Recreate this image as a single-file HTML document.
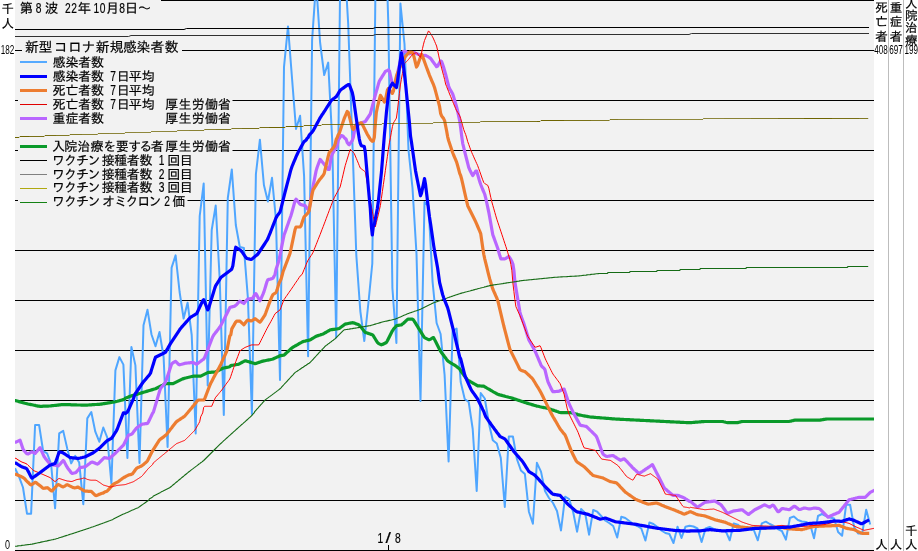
<!DOCTYPE html>
<html lang="ja"><head><meta charset="utf-8"><title>第8波 新型コロナ 新規感染者数</title>
<style>html,body{margin:0;padding:0;background:#fff;overflow:hidden}body{width:918px;height:551px}svg text{white-space:pre}</style></head>
<body>
<svg width="918" height="551" viewBox="0 0 918 551" style="display:block">
<rect x="0" y="0" width="918" height="551" fill="#ffffff"/>
<rect x="15" y="0" width="859" height="551" fill="#f2f2f2"/>
<defs><clipPath id="pc"><rect x="15" y="0" width="859" height="551"/></clipPath></defs>
<g shape-rendering="crispEdges" stroke="#000" stroke-width="1">
<line x1="15" y1="0.5" x2="874" y2="0.5"/>
<line x1="15" y1="50.5" x2="874" y2="50.5"/>
<line x1="15" y1="100.5" x2="874" y2="100.5"/>
<line x1="15" y1="150.5" x2="874" y2="150.5"/>
<line x1="15" y1="200.5" x2="874" y2="200.5"/>
<line x1="15" y1="250.5" x2="874" y2="250.5"/>
<line x1="15" y1="300.5" x2="874" y2="300.5"/>
<line x1="15" y1="350.5" x2="874" y2="350.5"/>
<line x1="15" y1="400.5" x2="874" y2="400.5"/>
<line x1="15" y1="450.5" x2="874" y2="450.5"/>
<line x1="15" y1="500.5" x2="874" y2="500.5"/>
<line x1="15" y1="550.5" x2="874" y2="550.5"/>
</g>
<g clip-path="url(#pc)">
<polyline points="15.0,468.3 19.0,476.7 23.0,487.5 27.0,513.7 31.1,513.7 35.1,425.0 39.1,425.0 43.1,451.0 47.1,453.4 51.1,464.0 55.1,508.3 59.2,433.4 63.2,430.9 67.2,448.4 71.2,463.4 75.2,455.9 79.2,462.6 83.3,504.2 87.3,418.4 91.3,412.0 95.3,431.7 99.3,441.7 103.3,427.5 107.3,437.6 111.4,483.3 115.4,370.4 119.4,357.1 123.4,364.6 127.4,458.0 131.4,347.0 135.4,365.4 139.5,463.0 143.5,325.3 147.5,309.8 151.5,334.5 155.5,346.2 159.5,332.0 163.6,357.0 167.6,447.0 171.6,267.6 175.6,255.4 179.6,292.0 183.6,318.5 187.6,302.7 191.7,335.0 195.7,433.5 199.7,216.0 203.7,183.4 207.7,385.5 211.7,230.0 215.7,205.6 219.8,281.0 223.8,415.0 227.8,198.0 231.8,169.4 235.8,225.0 239.8,247.0 243.9,248.0 247.9,298.0 251.9,414.0 255.9,174.0 259.9,139.7 263.9,185.0 267.9,201.5 272.0,177.8 276.0,220.0 280.0,380.0 284.0,66.8 288.0,26.4 292.0,78.0 296.0,129.0 300.1,115.8 304.1,176.4 308.1,356.2 312.1,40.0 316.1,-18.0 320.1,42.5 324.2,75.0 328.2,62.6 332.2,140.0 336.2,337.4 340.2,-22.0 344.2,-44.0 348.2,24.0 352.3,140.0 356.3,255.0 360.3,311.0 364.3,341.0 368.3,304.0 372.3,263.5 376.3,-85.0 380.4,-124.0 384.4,-106.0 388.4,26.6 392.4,288.0 396.4,343.0 400.4,3.4 404.5,44.0 408.5,150.0 412.5,188.0 416.5,254.0 420.5,401.0 424.5,202.0 428.5,206.0 432.6,282.0 436.6,323.0 440.6,334.0 444.6,375.0 448.6,461.5 452.6,331.0 456.6,328.6 460.7,382.0 464.7,399.0 468.7,402.0 472.7,429.0 476.7,491.0 480.7,393.0 484.8,398.5 488.8,423.0 492.8,440.3 496.8,443.5 500.8,458.0 504.8,507.0 508.8,436.5 512.9,436.5 516.9,459.0 520.9,470.5 524.9,474.0 528.9,511.7 532.9,523.7 536.9,462.8 541.0,471.6 545.0,491.0 549.0,498.0 553.0,503.0 557.0,511.0 561.0,530.5 565.1,496.7 569.1,499.0 573.1,511.7 577.1,531.7 581.1,509.0 585.1,513.0 589.1,534.7 593.2,510.0 597.2,511.7 601.2,516.0 605.2,520.5 609.2,523.0 613.2,526.0 617.2,537.5 621.3,516.7 625.3,518.0 629.3,521.0 633.3,524.0 637.3,526.0 641.3,528.5 645.4,540.5 649.4,522.5 653.4,524.0 657.4,527.0 661.4,530.5 665.4,533.0 669.4,534.0 673.5,543.0 677.5,526.7 681.5,538.0 685.5,526.7 689.5,525.7 693.5,526.5 697.5,528.5 701.6,542.0 705.6,528.4 709.6,527.0 713.6,529.0 717.6,530.9 721.6,530.9 725.7,531.0 729.7,540.3 733.7,523.4 737.7,524.6 741.7,528.0 745.7,529.6 749.7,529.6 753.8,530.0 757.8,540.3 761.8,523.4 765.8,521.7 769.8,524.0 773.8,526.0 777.8,529.0 781.9,531.0 785.9,539.6 789.9,518.0 793.9,516.4 797.9,520.0 801.9,521.5 806.0,522.0 810.0,524.0 814.0,538.3 818.0,516.0 822.0,514.0 826.0,516.0 830.0,517.5 834.1,518.4 838.1,532.0 842.1,535.8 846.1,504.8 850.1,504.8 854.1,527.0 858.1,533.4 862.2,533.4 866.2,509.7 870.2,524.6" fill="none" stroke="#4fa6ff" stroke-width="2.0" stroke-linejoin="round" stroke-linecap="butt" />
<polyline points="15.0,400.7 16.0,400.7 17.0,401.0 18.0,401.3 19.0,401.6 20.0,401.9 21.0,402.2 22.0,402.4 23.0,402.7 24.0,403.0 25.0,403.3 26.0,403.5 27.0,403.7 28.0,404.0 29.1,404.2 30.1,404.4 31.1,404.6 32.1,404.8 33.1,405.0 34.1,405.2 35.1,405.4 36.1,405.7 37.1,405.9 38.1,406.1 39.1,406.2 40.1,406.3 41.1,406.3 42.1,406.3 43.1,406.2 44.1,406.2 45.1,406.2 46.1,406.2 47.1,406.1 48.1,406.1 49.1,406.0 50.1,406.0 51.1,405.8 52.1,405.7 53.1,405.6 54.1,405.5 55.1,405.4 56.2,405.3 57.2,405.2 58.2,405.1 59.2,404.9 60.2,404.8 61.2,404.7 62.2,404.6 63.2,404.6 64.2,404.6 65.2,404.5 66.2,404.6 67.2,404.6 68.2,404.6 69.2,404.7 70.2,404.7 71.2,404.8 72.2,404.8 73.2,404.8 74.2,404.9 75.2,404.9 76.2,404.9 77.2,405.0 78.2,405.0 79.2,405.0 80.2,405.0 81.2,405.1 82.3,405.1 83.3,405.1 84.3,405.1 85.3,405.1 86.3,405.1 87.3,405.1 88.3,405.0 89.3,404.9 90.3,404.9 91.3,404.8 92.3,404.7 93.3,404.7 94.3,404.6 95.3,404.5 96.3,404.5 97.3,404.4 98.3,404.4 99.3,404.3 100.3,404.2 101.3,404.1 102.3,403.9 103.3,403.7 104.3,403.6 105.3,403.4 106.3,403.3 107.3,403.1 108.3,402.9 109.4,402.8 110.4,402.6 111.4,402.5 112.4,402.3 113.4,402.1 114.4,402.0 115.4,401.8 116.4,401.5 117.4,401.3 118.4,401.0 119.4,400.7 120.4,400.4 121.4,400.2 122.4,399.9 123.4,399.6 124.4,399.3 125.4,398.1 126.4,397.8 127.4,397.4 128.4,397.0 129.4,396.6 130.4,396.2 131.4,395.9 132.4,395.6 133.4,395.3 134.4,395.0 135.4,394.7 136.5,394.4 137.5,394.1 138.5,393.8 139.5,393.5 140.5,393.2 141.5,392.9 142.5,392.6 143.5,392.3 144.5,392.0 145.5,391.7 146.5,391.4 147.5,391.1 148.5,390.8 149.5,390.5 150.5,390.2 151.5,389.9 152.5,389.6 153.5,389.3 154.5,389.0 155.5,388.7 156.5,388.2 157.5,387.7 158.5,387.2 159.5,386.7 160.5,386.2 161.5,385.7 162.6,385.2 163.6,384.7 164.6,384.1 165.6,383.7 166.6,383.7 167.6,383.7 168.6,383.7 169.6,383.7 170.6,383.7 171.6,383.7 172.6,383.7 173.6,383.4 174.6,382.9 175.6,382.4 176.6,381.9 177.6,381.4 178.6,380.9 179.6,380.4 180.6,379.9 181.6,379.4 182.6,378.9 183.6,378.6 184.6,378.3 185.6,378.0 186.6,377.8 187.6,377.5 188.6,377.3 189.7,377.0 190.7,376.8 191.7,376.5 192.7,376.3 193.7,376.2 194.7,376.2 195.7,376.2 196.7,376.2 197.7,376.2 198.7,376.2 199.7,376.2 200.7,376.1 201.7,375.6 202.7,375.1 203.7,374.6 204.7,374.1 205.7,373.6 206.7,373.1 207.7,372.6 208.7,372.4 209.7,372.3 210.7,372.3 211.7,372.2 212.7,372.1 213.7,372.1 214.7,372.0 215.7,371.8 216.8,371.3 217.8,370.8 218.8,370.3 219.8,369.8 220.8,369.3 221.8,368.8 222.8,368.3 223.8,368.0 224.8,367.8 225.8,367.6 226.8,367.4 227.8,367.2 228.8,367.0 229.8,366.8 230.8,365.6 231.8,365.4 232.8,365.2 233.8,365.0 234.8,364.9 235.8,364.7 236.8,364.5 237.8,364.4 238.8,364.2 239.8,363.6 240.8,363.0 241.8,362.5 242.9,361.9 243.9,361.4 244.9,360.8 245.9,360.9 246.9,361.2 247.9,361.5 248.9,361.8 249.9,362.1 250.9,362.4 251.9,362.7 252.9,363.0 253.9,363.3 254.9,363.6 255.9,363.4 256.9,363.1 257.9,362.7 258.9,362.4 259.9,362.1 260.9,361.7 261.9,361.4 262.9,361.1 263.9,360.9 264.9,360.7 265.9,360.5 266.9,360.3 267.9,360.1 268.9,359.9 270.0,359.7 271.0,359.5 272.0,359.3 273.0,359.0 274.0,358.5 275.0,358.1 276.0,357.6 277.0,357.1 278.0,356.7 279.0,356.2 280.0,355.7 281.0,355.6 282.0,355.4 283.0,355.3 284.0,355.1 285.0,354.2 286.0,353.3 287.0,352.4 288.0,351.5 289.0,350.6 290.0,349.7 291.0,348.8 292.0,347.9 293.0,347.2 294.0,346.6 295.0,346.0 296.0,345.5 297.1,344.9 298.1,344.3 299.1,343.7 300.1,343.1 301.1,342.6 302.1,342.0 303.1,341.6 304.1,341.3 305.1,341.1 306.1,340.8 307.1,340.6 308.1,340.4 309.1,340.1 310.1,339.9 311.1,339.3 312.1,338.7 313.1,338.1 314.1,337.5 315.1,336.9 316.1,336.3 317.1,335.9 318.1,335.6 319.1,335.3 320.1,335.0 321.1,334.6 322.1,334.3 323.2,333.9 324.2,333.3 325.2,332.7 326.2,332.2 327.2,331.6 328.2,331.0 329.2,330.5 330.2,329.9 331.2,329.7 332.2,329.6 333.2,329.4 334.2,329.3 335.2,329.2 336.2,329.0 337.2,328.9 338.2,328.7 339.2,328.5 340.2,327.7 341.2,327.0 342.2,326.3 343.2,325.6 344.2,324.8 345.2,324.1 346.2,323.9 347.2,323.7 348.2,323.5 349.2,323.3 350.3,323.1 351.3,322.9 352.3,322.7 353.3,322.8 354.3,323.1 355.3,323.5 356.3,323.9 357.3,324.2 358.3,324.6 359.3,325.2 360.3,326.4 361.3,327.6 362.3,328.8 363.3,330.0 364.3,331.2 365.3,332.4 366.3,332.7 367.3,333.0 368.3,333.4 369.3,333.7 370.3,334.1 371.3,334.4 372.3,334.7 373.3,335.7 374.3,337.4 375.3,339.0 376.3,340.7 377.4,342.4 378.4,343.4 379.4,343.9 380.4,344.3 381.4,344.8 382.4,344.5 383.4,344.0 384.4,343.5 385.4,343.0 386.4,342.5 387.4,340.8 388.4,338.8 389.4,336.8 390.4,334.8 391.4,332.8 392.4,330.8 393.4,329.3 394.4,328.1 395.4,327.0 396.4,325.8 397.4,325.5 398.4,325.3 399.4,325.2 400.4,325.0 401.4,324.9 402.4,324.1 403.5,323.2 404.5,322.3 405.5,321.3 406.5,320.4 407.5,319.5 408.5,319.1 409.5,319.1 410.5,319.1 411.5,319.1 412.5,319.1 413.5,320.0 414.5,321.6 415.5,323.2 416.5,324.8 417.5,326.4 418.5,328.1 419.5,329.7 420.5,331.3 421.5,332.9 422.5,334.6 423.5,336.3 424.5,337.6 425.5,338.1 426.5,338.6 427.5,339.1 428.5,339.6 429.5,339.7 430.6,339.1 431.6,338.5 432.6,337.9 433.6,337.6 434.6,339.6 435.6,341.5 436.6,343.5 437.6,345.5 438.6,347.5 439.6,349.4 440.6,351.3 441.6,352.7 442.6,354.0 443.6,355.3 444.6,356.7 445.6,358.0 446.6,359.4 447.6,360.7 448.6,361.6 449.6,362.2 450.6,362.8 451.6,363.4 452.6,364.0 453.6,364.6 454.6,365.2 455.6,365.8 456.6,366.6 457.7,367.4 458.7,368.2 459.7,368.9 460.7,370.8 461.7,372.2 462.7,373.5 463.7,374.9 464.7,376.2 465.7,377.5 466.7,378.9 467.7,380.1 468.7,380.7 469.7,381.2 470.7,381.8 471.7,382.4 472.7,383.0 473.7,383.5 474.7,384.1 475.7,384.7 476.7,385.3 477.7,385.8 478.7,385.8 479.7,385.9 480.7,386.0 481.7,386.1 482.7,386.2 483.8,386.2 484.8,386.8 485.8,387.4 486.8,388.0 487.8,388.6 488.8,389.1 489.8,389.7 490.8,390.3 491.8,390.9 492.8,391.5 493.8,392.1 494.8,392.6 495.8,393.2 496.8,393.8 497.8,394.3 498.8,394.6 499.8,394.9 500.8,395.1 501.8,395.4 502.8,395.7 503.8,395.9 504.8,396.2 505.8,396.5 506.8,396.7 507.8,397.0 508.8,397.3 509.8,397.5 510.9,397.8 511.9,398.1 512.9,398.4 513.9,398.7 514.9,399.0 515.9,399.4 516.9,399.7 517.9,400.1 518.9,400.4 519.9,400.7 520.9,401.1 521.9,401.4 522.9,401.8 523.9,402.1 524.9,402.5 525.9,402.8 526.9,403.1 527.9,403.4 528.9,403.7 529.9,404.0 530.9,404.3 531.9,404.6 532.9,404.9 533.9,405.2 534.9,405.5 535.9,405.8 536.9,406.1 538.0,406.3 539.0,406.5 540.0,406.8 541.0,407.0 542.0,407.2 543.0,407.4 544.0,407.6 545.0,407.8 546.0,408.0 547.0,408.2 548.0,408.4 549.0,408.7 550.0,409.1 551.0,409.4 552.0,409.8 553.0,410.1 554.0,410.4 555.0,410.8 556.0,411.1 557.0,411.5 558.0,411.8 559.0,412.2 560.0,412.5 561.0,412.6 562.0,412.6 563.0,412.6 564.1,412.6 565.1,412.6 566.1,412.6 567.1,412.6 568.1,412.6 569.1,412.6 570.1,412.6 571.1,412.7 572.1,412.9 573.1,413.1 574.1,413.7 575.1,413.9 576.1,414.1 577.1,414.2 578.1,414.8 579.1,414.9 580.1,415.1 581.1,415.3 582.1,415.5 583.1,415.7 584.1,415.9 585.1,416.1 586.1,416.2 587.1,416.4 588.1,416.6 589.1,416.8 590.1,417.0 591.2,417.1 592.2,417.2 593.2,417.2 594.2,417.3 595.2,417.4 596.2,417.5 597.2,417.6 598.2,417.6 599.2,417.7 600.2,417.8 601.2,417.9 602.2,418.0 603.2,418.0 604.2,418.1 605.2,418.2 606.2,418.3 607.2,418.4 608.2,418.4 609.2,418.5 610.2,418.6 611.2,418.7 612.2,418.8 613.2,418.8 614.2,418.9 615.2,419.0 616.2,419.1 617.2,419.1 618.3,419.2 619.3,419.2 620.3,419.3 621.3,419.3 622.3,419.4 623.3,419.4 624.3,419.5 625.3,419.5 626.3,419.6 627.3,419.6 628.3,419.7 629.3,419.7 630.3,419.8 631.3,419.8 632.3,419.9 633.3,419.9 634.3,420.0 635.3,420.0 636.3,420.1 637.3,420.1 638.3,420.2 639.3,420.2 640.3,420.3 641.3,420.3 642.3,420.4 643.3,420.4 644.4,420.5 645.4,420.5 646.4,420.6 647.4,420.6 648.4,420.7 649.4,420.7 650.4,420.8 651.4,420.8 652.4,420.9 653.4,420.9 654.4,421.0 655.4,421.0 656.4,421.1 657.4,421.1 658.4,421.2 659.4,421.2 660.4,421.3 661.4,421.3 662.4,421.4 663.4,421.4 664.4,421.5 665.4,421.5 666.4,421.6 667.4,421.6 668.4,421.7 669.4,421.7 670.4,421.8 671.5,421.8 672.5,421.9 673.5,421.9 674.5,422.0 675.5,422.0 676.5,422.1 677.5,422.1 678.5,422.2 679.5,422.2 680.5,422.3 681.5,422.3 682.5,422.4 683.5,422.4 684.5,422.5 685.5,422.5 686.5,422.6 687.5,422.6 688.5,422.7 689.5,422.7 690.5,422.7 691.5,422.6 692.5,422.5 693.5,422.4 694.5,422.3 695.5,422.2 696.5,422.2 697.5,422.1 698.6,422.0 699.6,421.9 700.6,421.8 701.6,421.7 702.6,421.7 703.6,421.6 704.6,421.5 705.6,421.5 706.6,421.5 707.6,421.5 708.6,421.5 709.6,421.5 710.6,421.5 711.6,421.5 712.6,421.5 713.6,421.5 714.6,421.5 715.6,421.5 716.6,421.5 717.6,421.5 718.6,421.5 719.6,421.5 720.6,421.5 721.6,421.5 722.6,421.5 723.6,421.8 724.7,422.0 725.7,422.3 726.7,422.5 727.7,422.7 728.7,422.7 729.7,422.7 730.7,422.7 731.7,422.7 732.7,422.7 733.7,422.7 734.7,422.7 735.7,422.7 736.7,422.7 737.7,422.6 738.7,422.3 739.7,422.1 740.7,421.8 741.7,421.6 742.7,421.5 743.7,421.5 744.7,421.5 745.7,421.5 746.7,421.5 747.7,421.5 748.7,421.5 749.7,421.5 750.7,421.5 751.8,421.5 752.8,421.5 753.8,421.5 754.8,421.5 755.8,421.5 756.8,421.5 757.8,421.5 758.8,421.5 759.8,421.5 760.8,421.5 761.8,421.5 762.8,421.5 763.8,421.5 764.8,421.5 765.8,421.5 766.8,421.5 767.8,421.5 768.8,421.5 769.8,421.5 770.8,421.5 771.8,421.5 772.8,421.5 773.8,421.5 774.8,421.5 775.8,421.5 776.8,421.5 777.8,421.5 778.9,421.5 779.9,421.5 780.9,421.5 781.9,421.5 782.9,421.5 783.9,421.5 784.9,421.5 785.9,421.5 786.9,421.5 787.9,421.5 788.9,421.5 789.9,421.3 790.9,421.1 791.9,420.8 792.9,420.6 793.9,420.3 794.9,420.2 795.9,420.2 796.9,420.2 797.9,420.2 798.9,420.2 799.9,420.2 800.9,420.2 801.9,420.2 802.9,420.2 803.9,420.2 805.0,420.2 806.0,420.2 807.0,420.2 808.0,420.2 809.0,420.2 810.0,420.2 811.0,420.2 812.0,420.2 813.0,420.2 814.0,420.2 815.0,420.2 816.0,420.2 817.0,420.2 818.0,420.2 819.0,420.2 820.0,420.1 821.0,419.9 822.0,419.8 823.0,419.6 824.0,419.4 825.0,419.3 826.0,419.1 827.0,419.0 828.0,419.0 829.0,419.0 830.0,419.0 831.0,419.0 832.1,419.0 833.1,419.0 834.1,419.0 835.1,419.0 836.1,419.0 837.1,419.0 838.1,419.0 839.1,419.0 840.1,419.0 841.1,419.0 842.1,419.0 843.1,419.0 844.1,419.0 845.1,419.0 846.1,419.0 847.1,419.0 848.1,419.0 849.1,419.0 850.1,419.0 851.1,419.0 852.1,419.0 853.1,419.0 854.1,419.0 855.1,419.0 856.1,419.0 857.1,419.0 858.1,419.0 859.2,419.0 860.2,419.0 861.2,419.0 862.2,419.0 863.2,419.0 864.2,419.0 865.2,419.0 866.2,419.0 867.2,419.0 868.2,419.0 869.2,419.0 870.2,419.0 871.2,419.0 872.2,419.0 873.2,419.0 874.0,419.0" fill="none" stroke="#0a9a2a" stroke-width="3.2" stroke-linejoin="round" stroke-linecap="butt" />
<polyline points="15.0,442.1 16.0,442.1 17.0,441.6 18.0,441.1 19.0,440.6 20.0,440.1 21.0,443.0 22.0,446.0 23.0,449.1 24.0,450.7 25.0,451.7 26.0,452.8 27.0,453.8 28.0,454.0 29.1,453.4 30.1,452.8 31.1,452.1 32.1,451.9 33.1,452.4 34.1,452.9 35.1,453.4 36.1,452.2 37.1,451.1 38.1,449.9 39.1,448.7 40.1,447.6 41.1,449.8 42.1,452.1 43.1,454.3 44.1,456.5 45.1,457.9 46.1,459.2 47.1,460.5 48.1,461.8 49.1,463.0 50.1,464.3 51.1,464.5 52.1,464.7 53.1,464.9 54.1,465.1 55.1,465.3 56.2,465.5 57.2,465.7 58.2,465.9 59.2,465.1 60.2,463.9 61.2,462.7 62.2,461.6 63.2,460.4 64.2,461.6 65.2,463.6 66.2,465.6 67.2,467.3 68.2,468.7 69.2,470.0 70.2,471.3 71.2,472.7 72.2,473.4 73.2,473.2 74.2,473.0 75.2,472.8 76.2,472.3 77.2,471.1 78.2,469.9 79.2,468.7 80.2,467.6 81.2,467.4 82.3,467.3 83.3,467.1 84.3,466.9 85.3,466.7 86.3,465.9 87.3,465.2 88.3,464.4 89.3,463.7 90.3,462.9 91.3,462.2 92.3,462.0 93.3,462.4 94.3,462.8 95.3,463.3 96.3,463.7 97.3,464.1 98.3,463.6 99.3,462.6 100.3,461.6 101.3,460.6 102.3,459.6 103.3,458.6 104.3,457.6 105.3,457.8 106.3,457.9 107.3,458.1 108.3,458.3 109.4,458.4 110.4,457.6 111.4,456.7 112.4,455.8 113.4,455.0 114.4,454.1 115.4,453.2 116.4,452.2 117.4,451.2 118.4,450.2 119.4,449.2 120.4,448.2 121.4,447.2 122.4,446.2 123.4,445.2 124.4,443.3 125.4,441.3 126.4,439.3 127.4,437.3 128.4,435.3 129.4,434.8 130.4,434.6 131.4,434.3 132.4,433.5 133.4,432.1 134.4,430.8 135.4,429.5 136.5,428.1 137.5,427.2 138.5,426.5 139.5,425.8 140.5,425.2 141.5,424.5 142.5,424.1 143.5,424.0 144.5,423.8 145.5,423.7 146.5,423.6 147.5,423.4 148.5,421.8 149.5,419.7 150.5,417.6 151.5,415.5 152.5,413.4 153.5,411.8 154.5,408.4 155.5,405.0 156.5,401.7 157.5,398.3 158.5,394.9 159.5,391.5 160.5,388.5 161.5,387.3 162.6,386.0 163.6,384.8 164.6,383.5 165.6,381.9 166.6,378.9 167.6,375.9 168.6,372.9 169.6,369.9 170.6,366.9 171.6,363.9 172.6,363.1 173.6,362.4 174.6,361.7 175.6,361.4 176.6,362.4 177.6,363.4 178.6,364.4 179.6,364.8 180.6,364.5 181.6,364.3 182.6,364.0 183.6,363.7 184.6,363.4 185.6,363.2 186.6,363.1 187.6,363.0 188.6,362.9 189.7,362.8 190.7,362.7 191.7,362.6 192.7,362.5 193.7,362.8 194.7,363.3 195.7,363.7 196.7,364.2 197.7,363.5 198.7,362.7 199.7,362.0 200.7,361.3 201.7,360.5 202.7,359.8 203.7,359.1 204.7,357.4 205.7,354.8 206.7,352.2 207.7,349.7 208.7,347.1 209.7,344.5 210.7,341.9 211.7,339.3 212.7,336.8 213.7,335.1 214.7,333.8 215.7,332.4 216.8,331.1 217.8,329.8 218.8,328.4 219.8,327.1 220.8,325.6 221.8,323.6 222.8,321.6 223.8,319.6 224.8,317.7 225.8,315.7 226.8,313.7 227.8,311.7 228.8,309.7 229.8,307.7 230.8,307.1 231.8,306.9 232.8,306.6 233.8,306.4 234.8,306.1 235.8,305.3 236.8,304.3 237.8,303.2 238.8,302.2 239.8,301.2 240.8,301.6 241.8,302.3 242.9,302.9 243.9,303.5 244.9,302.3 245.9,301.1 246.9,299.9 247.9,299.0 248.9,298.9 249.9,298.8 250.9,298.7 251.9,298.6 252.9,297.9 253.9,296.1 254.9,294.3 255.9,293.6 256.9,295.4 257.9,297.2 258.9,299.0 259.9,300.8 260.9,299.1 261.9,296.7 262.9,294.4 263.9,291.9 264.9,288.6 265.9,285.2 266.9,281.9 267.9,279.7 268.9,279.4 270.0,279.2 271.0,278.9 272.0,278.7 273.0,278.1 274.0,276.4 275.0,274.4 276.0,269.6 277.0,266.5 278.0,263.5 279.0,260.1 280.0,255.1 281.0,250.1 282.0,245.1 283.0,240.1 284.0,235.3 285.0,232.5 286.0,229.7 287.0,226.8 288.0,224.0 289.0,221.1 290.0,218.3 291.0,215.4 292.0,212.0 293.0,208.3 294.0,204.6 295.0,200.9 296.0,199.2 297.1,200.4 298.1,201.7 299.1,203.0 300.1,204.3 301.1,204.6 302.1,204.9 303.1,205.1 304.1,205.4 305.1,205.6 306.1,206.9 307.1,208.2 308.1,209.6 309.1,209.6 310.1,203.6 311.1,197.6 312.1,191.6 313.1,186.0 314.1,181.0 315.1,175.9 316.1,170.9 317.1,167.5 318.1,164.8 319.1,162.1 320.1,159.5 321.1,160.5 322.1,161.7 323.2,163.0 324.2,164.2 325.2,165.5 326.2,166.8 327.2,168.2 328.2,169.5 329.2,169.4 330.2,163.3 331.2,157.3 332.2,154.3 333.2,152.5 334.2,150.8 335.2,149.0 336.2,147.3 337.2,145.1 338.2,140.2 339.2,138.7 340.2,137.2 341.2,135.5 342.2,135.7 343.2,136.3 344.2,137.6 345.2,138.5 346.2,139.5 347.2,142.5 348.2,143.9 349.2,144.7 350.3,143.3 351.3,141.9 352.3,140.5 353.3,137.6 354.3,131.9 355.3,127.8 356.3,126.9 357.3,126.0 358.3,125.1 359.3,124.2 360.3,123.3 361.3,122.9 362.3,122.6 363.3,122.2 364.3,121.9 365.3,121.5 366.3,120.0 367.3,118.5 368.3,117.0 369.3,115.5 370.3,114.0 371.3,110.2 372.3,106.4 373.3,102.7 374.3,98.9 375.3,95.1 376.3,91.5 377.4,87.8 378.4,84.1 379.4,81.0 380.4,79.4 381.4,77.8 382.4,76.2 383.4,74.6 384.4,73.0 385.4,71.4 386.4,70.9 387.4,70.5 388.4,70.0 389.4,70.9 390.4,75.3 391.4,79.7 392.4,83.9 393.4,83.5 394.4,83.1 395.4,82.5 396.4,78.1 397.4,73.8 398.4,69.4 399.4,65.2 400.4,61.2 401.4,57.1 402.4,53.1 403.5,51.4 404.5,51.4 405.5,51.4 406.5,52.1 407.5,52.7 408.5,53.4 409.5,53.8 410.5,53.5 411.5,53.3 412.5,53.0 413.5,52.8 414.5,52.7 415.5,53.2 416.5,53.6 417.5,54.0 418.5,54.4 419.5,54.8 420.5,55.1 421.5,55.2 422.5,55.3 423.5,55.4 424.5,55.5 425.5,55.3 426.5,55.9 427.5,56.4 428.5,57.0 429.5,57.6 430.6,58.4 431.6,59.8 432.6,61.2 433.6,62.6 434.6,63.9 435.6,65.3 436.6,66.7 437.6,66.1 438.6,64.3 439.6,62.6 440.6,60.9 441.6,61.6 442.6,64.3 443.6,67.3 444.6,70.7 445.6,74.3 446.6,78.2 447.6,82.1 448.6,86.0 449.6,88.7 450.6,90.3 451.6,92.0 452.6,93.7 453.6,96.8 454.6,100.1 455.6,103.5 456.6,107.0 457.7,111.5 458.7,116.2 459.7,120.8 460.7,128.0 461.7,136.1 462.7,143.3 463.7,147.4 464.7,151.6 465.7,155.7 466.7,159.5 467.7,163.4 468.7,167.3 469.7,169.7 470.7,171.7 471.7,173.7 472.7,175.5 473.7,174.0 474.7,172.6 475.7,171.1 476.7,171.1 477.7,174.6 478.7,178.1 479.7,181.6 480.7,184.5 481.7,187.0 482.7,189.5 483.8,192.0 484.8,194.5 485.8,198.3 486.8,203.0 487.8,207.6 488.8,212.3 489.8,217.8 490.8,223.5 491.8,229.2 492.8,234.7 493.8,237.4 494.8,240.2 495.8,243.0 496.8,245.7 497.8,248.5 498.8,252.1 499.8,255.6 500.8,258.8 501.8,258.8 502.8,258.8 503.8,258.8 504.8,258.8 505.8,258.4 506.8,257.7 507.8,257.0 508.8,256.4 509.8,257.9 510.9,259.7 511.9,261.6 512.9,264.0 513.9,270.4 514.9,282.0 515.9,288.0 516.9,294.0 517.9,300.0 518.9,306.1 519.9,312.1 520.9,315.6 521.9,318.3 522.9,321.0 523.9,323.6 524.9,326.9 525.9,330.2 526.9,333.4 527.9,336.7 528.9,339.9 529.9,341.7 530.9,343.5 531.9,345.3 532.9,347.1 533.9,349.0 534.9,350.8 535.9,353.0 536.9,355.4 538.0,357.9 539.0,360.3 540.0,362.7 541.0,365.1 542.0,366.6 543.0,367.4 544.0,368.2 545.0,369.9 546.0,374.1 547.0,378.3 548.0,381.9 549.0,384.0 550.0,386.1 551.0,388.2 552.0,390.3 553.0,391.7 554.0,391.7 555.0,391.6 556.0,391.5 557.0,391.4 558.0,391.3 559.0,391.2 560.0,390.7 561.0,390.2 562.0,389.7 563.0,389.2 564.1,389.0 565.1,392.0 566.1,395.0 567.1,398.0 568.1,401.0 569.1,403.9 570.1,406.0 571.1,408.1 572.1,410.1 573.1,412.2 574.1,414.1 575.1,416.0 576.1,417.8 577.1,419.6 578.1,421.4 579.1,423.2 580.1,425.0 581.1,425.4 582.1,425.6 583.1,425.8 584.1,426.0 585.1,426.2 586.1,426.4 587.1,427.1 588.1,428.1 589.1,429.1 590.1,430.1 591.2,431.1 592.2,432.1 593.2,433.2 594.2,434.2 595.2,435.2 596.2,436.2 597.2,438.3 598.2,441.1 599.2,443.9 600.2,446.7 601.2,449.5 602.2,452.3 603.2,454.3 604.2,455.0 605.2,455.7 606.2,456.3 607.2,456.5 608.2,456.3 609.2,456.1 610.2,455.9 611.2,455.7 612.2,455.5 613.2,455.6 614.2,456.3 615.2,456.9 616.2,457.6 617.2,458.3 618.3,458.9 619.3,459.6 620.3,460.3 621.3,459.9 622.3,459.5 623.3,459.0 624.3,458.8 625.3,459.8 626.3,460.9 627.3,461.9 628.3,463.0 629.3,464.1 630.3,465.1 631.3,466.2 632.3,467.3 633.3,468.3 634.3,469.2 635.3,470.1 636.3,471.0 637.3,472.0 638.3,472.9 639.3,473.5 640.3,472.8 641.3,472.1 642.3,471.5 643.3,470.8 644.4,470.1 645.4,469.4 646.4,468.7 647.4,468.1 648.4,467.4 649.4,466.7 650.4,466.0 651.4,465.3 652.4,464.6 653.4,466.5 654.4,468.4 655.4,470.4 656.4,472.4 657.4,474.3 658.4,476.3 659.4,478.3 660.4,480.3 661.4,482.3 662.4,484.3 663.4,486.3 664.4,488.1 665.4,489.0 666.4,489.8 667.4,490.7 668.4,491.5 669.4,492.4 670.4,493.3 671.5,494.1 672.5,495.0 673.5,495.4 674.5,495.4 675.5,495.4 676.5,495.4 677.5,495.4 678.5,495.6 679.5,496.0 680.5,496.4 681.5,496.8 682.5,497.2 683.5,497.6 684.5,498.1 685.5,498.8 686.5,499.4 687.5,500.1 688.5,500.7 689.5,501.4 690.5,501.5 691.5,502.3 692.5,503.1 693.5,504.0 694.5,504.8 695.5,505.6 696.5,506.5 697.5,507.2 698.6,506.5 699.6,505.8 700.6,505.2 701.6,504.5 702.6,503.8 703.6,503.2 704.6,502.5 705.6,502.2 706.6,502.1 707.6,501.9 708.6,501.8 709.6,501.7 710.6,501.6 711.6,501.4 712.6,501.3 713.6,501.2 714.6,501.1 715.6,501.5 716.6,502.1 717.6,502.7 718.6,503.3 719.6,503.9 720.6,504.5 721.6,505.5 722.6,506.9 723.6,508.3 724.7,509.8 725.7,511.2 726.7,512.6 727.7,513.3 728.7,512.9 729.7,512.5 730.7,512.1 731.7,511.7 732.7,511.3 733.7,510.9 734.7,510.8 735.7,510.7 736.7,510.5 737.7,510.4 738.7,510.2 739.7,510.1 740.7,509.9 741.7,509.8 742.7,510.1 743.7,510.9 744.7,511.7 745.7,512.5 746.7,513.3 747.7,514.1 748.7,514.4 749.7,513.6 750.7,512.8 751.8,512.0 752.8,511.2 753.8,510.4 754.8,509.7 755.8,509.2 756.8,508.7 757.8,508.2 758.8,507.7 759.8,507.2 760.8,506.7 761.8,506.2 762.8,505.6 763.8,505.1 764.8,504.9 765.8,505.4 766.8,505.9 767.8,506.4 768.8,506.9 769.8,507.1 770.8,506.4 771.8,505.7 772.8,505.1 773.8,505.6 774.8,507.1 775.8,508.6 776.8,510.1 777.8,511.6 778.9,511.6 779.9,510.6 780.9,509.6 781.9,508.6 782.9,508.6 783.9,508.8 784.9,509.0 785.9,509.1 786.9,509.3 787.9,509.5 788.9,509.6 789.9,509.4 790.9,508.6 791.9,507.9 792.9,507.1 793.9,506.4 794.9,506.4 795.9,507.1 796.9,507.9 797.9,508.6 798.9,509.4 799.9,509.5 800.9,509.2 801.9,508.8 802.9,508.5 803.9,508.1 805.0,508.1 806.0,508.3 807.0,508.5 808.0,508.7 809.0,508.9 810.0,508.9 811.0,508.7 812.0,508.5 813.0,508.3 814.0,508.0 815.0,508.1 816.0,508.2 817.0,508.3 818.0,508.4 819.0,508.5 820.0,509.2 821.0,510.2 822.0,511.2 823.0,512.2 824.0,513.2 825.0,514.2 826.0,515.2 827.0,516.2 828.0,517.2 829.0,516.7 830.0,516.2 831.0,515.7 832.1,515.2 833.1,514.7 834.1,514.3 835.1,513.9 836.1,513.5 837.1,513.1 838.1,512.7 839.1,512.3 840.1,511.1 841.1,509.8 842.1,508.6 843.1,507.3 844.1,506.1 845.1,504.8 846.1,503.6 847.1,502.3 848.1,501.0 849.1,499.8 850.1,499.5 851.1,499.3 852.1,499.0 853.1,498.8 854.1,498.5 855.1,498.3 856.1,498.0 857.1,497.8 858.1,497.5 859.2,497.3 860.2,497.3 861.2,497.3 862.2,497.3 863.2,497.3 864.2,497.3 865.2,497.3 866.2,496.4 867.2,495.4 868.2,494.4 869.2,493.4 870.2,492.4 871.2,491.9 872.2,491.4 873.2,490.9 875.0,490.0" fill="none" stroke="#b966ff" stroke-width="3.2" stroke-linejoin="round" stroke-linecap="butt" />
<polyline points="15.0,474.2 16.0,474.3 17.0,474.7 18.0,475.2 19.0,475.6 20.0,476.1 21.0,476.5 22.0,477.0 23.0,477.4 24.0,478.2 25.0,479.2 26.0,480.3 27.0,481.3 28.0,482.3 29.1,483.3 30.1,484.3 31.1,484.9 32.1,484.3 33.1,483.7 34.1,483.0 35.1,482.4 36.1,482.6 37.1,483.4 38.1,484.2 39.1,485.0 40.1,485.8 41.1,486.6 42.1,487.4 43.1,488.2 44.1,488.3 45.1,488.1 46.1,487.9 47.1,487.7 48.1,488.1 49.1,489.0 50.1,489.9 51.1,490.8 52.1,490.8 53.1,489.7 54.1,488.6 55.1,487.4 56.2,486.3 57.2,485.1 58.2,484.5 59.2,484.9 60.2,485.5 61.2,486.1 62.2,486.7 63.2,486.9 64.2,486.4 65.2,485.8 66.2,485.1 67.2,484.7 68.2,485.0 69.2,485.6 70.2,486.1 71.2,486.6 72.2,487.1 73.2,487.6 74.2,487.8 75.2,487.8 76.2,487.6 77.2,487.2 78.2,487.2 79.2,487.8 80.2,488.4 81.2,489.0 82.3,489.7 83.3,490.3 84.3,490.8 85.3,491.1 86.3,491.2 87.3,491.2 88.3,491.3 89.3,491.3 90.3,491.4 91.3,491.3 92.3,492.3 93.3,493.3 94.3,494.3 95.3,495.3 96.3,495.6 97.3,495.2 98.3,494.8 99.3,494.3 100.3,493.9 101.3,493.5 102.3,493.2 103.3,493.1 104.3,492.2 105.3,491.8 106.3,491.4 107.3,491.0 108.3,489.9 109.4,488.7 110.4,487.5 111.4,486.2 112.4,485.2 113.4,484.3 114.4,483.7 115.4,483.1 116.4,482.6 117.4,482.1 118.4,481.6 119.4,480.8 120.4,480.0 121.4,479.3 122.4,478.5 123.4,477.8 124.4,477.2 125.4,476.7 126.4,476.1 127.4,475.6 128.4,475.1 129.4,474.8 130.4,474.6 131.4,474.4 132.4,473.9 133.4,472.6 134.4,471.2 135.4,469.8 136.5,468.4 137.5,467.7 138.5,467.3 139.5,466.9 140.5,466.4 141.5,466.0 142.5,465.3 143.5,464.5 144.5,463.6 145.5,462.8 146.5,461.9 147.5,460.7 148.5,458.7 149.5,456.7 150.5,454.8 151.5,452.8 152.5,450.9 159.5,439.9 160.5,439.1 161.5,438.4 162.6,437.6 163.6,436.9 164.6,436.1 165.6,435.3 166.6,434.3 167.6,433.0 168.6,431.7 169.6,430.4 170.6,429.1 171.6,427.9 172.6,426.6 173.6,425.3 174.6,424.0 175.6,422.7 176.6,421.6 177.6,420.9 178.6,420.2 179.6,419.6 180.6,418.9 181.6,418.2 182.6,417.6 183.6,416.9 184.6,416.2 187.6,412.8 188.6,411.6 189.7,410.3 190.7,409.1 191.7,407.9 192.7,406.6 193.7,405.4 194.7,404.1 195.7,402.9 196.7,401.6 197.7,400.4 198.7,400.0 199.7,400.0 200.7,400.0 201.7,400.0 202.7,400.0 203.7,400.0 204.7,398.7 205.7,396.1 206.7,393.5 207.7,390.9 208.7,388.3 209.7,385.7 210.7,383.3 211.7,381.4 212.7,379.5 213.7,377.6 214.7,375.7 215.7,373.8 216.8,372.0 217.8,370.1 218.8,368.2 219.8,366.3 220.8,364.4 221.8,362.1 222.8,359.9 223.8,357.7 224.8,355.5 225.8,353.3 226.8,351.0 227.8,346.0 228.8,341.0 229.8,336.0 230.8,334.8 231.8,328.9 232.8,327.1 233.8,325.4 234.8,323.6 235.8,321.9 236.8,321.1 237.8,321.1 238.8,321.1 239.8,321.1 240.8,321.9 241.8,322.9 242.9,323.9 243.9,324.8 244.9,323.4 245.9,322.1 246.9,320.7 247.9,320.0 248.9,320.3 249.9,320.6 250.9,321.0 251.9,320.7 252.9,320.0 253.9,319.4 254.9,318.7 255.9,319.2 256.9,320.0 257.9,320.7 258.9,321.5 259.9,322.2 260.9,321.1 261.9,319.6 262.9,318.1 263.9,316.6 264.9,315.1 265.9,312.5 266.9,309.7 267.9,307.0 268.9,304.2 270.0,301.4 271.0,298.9 272.0,296.4 273.0,294.5 274.0,293.9 275.0,293.2 276.0,292.5 277.0,290.1 278.0,286.6 279.0,283.3 280.0,281.3 281.0,279.2 282.0,275.8 283.0,271.8 284.0,269.2 285.0,266.6 286.0,264.0 287.0,261.4 288.0,258.8 289.0,256.1 290.0,253.5 291.0,249.0 292.0,244.2 293.0,239.4 294.0,234.6 295.0,229.8 296.0,227.0 297.1,227.0 298.1,227.0 299.1,227.0 300.1,227.0 301.1,225.7 302.1,222.6 303.1,219.5 304.1,216.8 305.1,215.8 306.1,214.8 307.1,213.8 308.1,212.7 309.1,210.9 310.1,205.3 311.1,199.6 312.1,193.9 313.1,189.9 314.1,188.3 315.1,186.7 316.1,185.1 317.1,183.5 318.1,181.9 319.1,180.4 320.1,179.1 321.1,177.9 322.1,176.6 323.2,175.3 324.2,173.5 325.2,169.2 326.2,165.0 327.2,160.7 328.2,156.4 329.2,152.8 330.2,151.5 331.2,150.3 332.2,149.0 333.2,147.8 334.2,146.3 335.2,143.9 336.2,139.3 337.2,137.6 338.2,134.9 339.2,133.4 340.2,130.4 341.2,127.4 342.2,124.4 343.2,121.4 344.2,118.5 345.2,116.2 346.2,113.8 347.2,111.5 348.2,112.2 349.2,116.2 350.3,120.2 351.3,124.2 352.3,128.2 353.3,129.5 354.3,127.8 355.3,126.1 356.3,124.5 357.3,123.8 358.3,123.6 359.3,123.3 360.3,123.1 361.3,122.8 362.3,124.3 363.3,126.3 364.3,128.3 365.3,130.3 366.3,132.3 367.3,134.3 368.3,135.9 369.3,137.6 370.3,139.3 371.3,140.3 372.3,141.3 373.3,141.0 374.3,137.3 375.3,123.9 376.3,112.8 377.4,107.2 378.4,103.1 379.4,99.1 380.4,95.3 381.4,96.9 382.4,98.6 383.4,100.3 384.4,102.0 385.4,100.1 386.4,95.0 387.4,90.0 388.4,88.4 389.4,89.6 390.4,90.9 391.4,92.1 392.4,93.4 393.4,91.2 394.4,86.2 395.4,81.2 396.4,76.2 397.4,73.4 398.4,71.1 399.4,68.8 400.4,66.6 401.4,64.3 402.4,62.3 403.5,60.3 404.5,58.3 405.5,56.3 406.5,55.2 407.5,54.0 408.5,52.9 409.5,52.2 410.5,52.3 411.5,52.4 412.5,52.6 413.5,54.9 414.5,58.9 415.5,63.0 416.5,67.0 417.5,65.4 418.5,62.6 419.5,59.8 420.5,57.1 421.5,54.3 422.5,56.2 423.5,58.9 424.5,61.7 425.5,64.5 426.5,67.2 427.5,69.9 428.5,72.6 429.5,75.3 430.6,77.9 431.6,80.3 432.6,82.6 433.6,84.9 434.6,87.8 435.6,91.4 436.6,95.1 437.6,98.8 438.6,102.7 439.6,106.7 440.6,113.3 441.6,115.8 442.6,117.3 443.6,118.6 444.6,120.6 445.6,125.7 446.6,130.8 447.6,136.6 448.6,140.5 449.6,143.5 450.6,146.5 451.6,149.5 452.6,152.5 453.6,155.0 454.6,157.3 455.6,159.7 456.6,162.1 457.7,165.8 458.7,169.5 459.7,173.3 460.7,175.7 461.7,179.3 462.7,183.7 463.7,188.2 464.7,192.6 465.7,197.0 466.7,201.4 467.7,205.7 468.7,207.7 469.7,209.7 470.7,211.8 471.7,213.8 472.7,215.8 473.7,217.8 474.7,219.8 475.7,221.9 476.7,224.2 477.7,226.5 478.7,228.8 479.7,231.1 480.7,233.6 481.7,240.6 482.7,247.5 483.8,254.5 484.8,259.1 485.8,263.1 486.8,267.2 487.8,271.3 488.8,275.3 489.8,279.2 490.8,282.5 491.8,285.9 492.8,289.0 493.8,291.3 494.8,293.5 495.8,295.8 496.8,298.0 497.8,300.7 498.8,304.9 499.8,309.2 500.8,313.4 501.8,317.6 502.8,321.8 503.8,326.0 504.8,329.8 505.8,333.7 506.8,337.5 507.8,341.3 508.8,345.1 509.8,348.9 510.9,351.4 511.9,353.4 512.9,355.4 513.9,357.4 514.9,359.4 515.9,361.4 516.9,363.4 517.9,365.4 518.9,367.5 519.9,369.5 520.9,370.2 521.9,370.6 522.9,370.9 523.9,371.3 524.9,371.6 525.9,372.4 526.9,373.4 527.9,374.3 528.9,375.2 529.9,376.2 530.9,377.1 531.9,378.0 532.9,379.2 533.9,380.9 534.9,382.5 535.9,384.2 536.9,385.9 538.0,387.5 539.0,389.2 540.0,390.9 541.0,392.8 542.0,394.8 543.0,396.8 544.0,398.9 545.0,400.9 546.0,402.9 547.0,404.9 548.0,407.0 549.0,409.0 550.0,411.1 551.0,413.1 552.0,414.9 553.0,416.7 554.0,418.4 555.0,420.1 556.0,421.8 557.0,423.5 558.0,425.3 559.0,427.0 560.0,428.7 561.0,430.1 562.0,431.3 563.0,432.6 564.1,433.8 565.1,435.1 566.1,437.4 567.1,440.0 568.1,442.7 569.1,445.3 570.1,447.9 571.1,450.5 572.1,452.7 573.1,454.8 574.1,456.8 575.1,458.8 576.1,460.8 577.1,462.0 578.1,462.7 579.1,463.3 580.1,464.0 581.1,464.7 582.1,465.3 583.1,466.0 584.1,466.7 585.1,467.7 586.1,468.7 587.1,469.7 588.1,470.7 589.1,471.7 590.1,472.7 591.2,473.7 592.2,474.7 593.2,475.5 594.2,475.7 595.2,476.0 596.2,476.2 597.2,476.5 598.2,476.7 599.2,477.0 600.2,477.2 601.2,477.5 602.2,477.7 603.2,478.1 604.2,478.6 605.2,479.1 606.2,479.6 607.2,480.1 608.2,480.6 609.2,481.1 610.2,481.6 611.2,481.8 612.2,482.0 613.2,482.2 614.2,482.4 615.2,482.6 616.2,482.8 617.2,483.6 618.3,484.7 619.3,485.7 620.3,486.8 621.3,487.8 622.3,488.9 623.3,490.0 624.3,491.0 625.3,492.1 626.3,492.8 627.3,493.5 628.3,494.2 629.3,494.9 630.3,495.6 631.3,496.3 632.3,497.0 633.3,497.7 634.3,498.4 635.3,499.1 636.3,499.6 637.3,500.0 638.3,500.4 639.3,500.8 640.3,501.2 641.3,501.6 642.3,502.0 643.3,502.4 644.4,502.8 645.4,503.2 646.4,503.6 647.4,504.0 648.4,504.1 649.4,504.0 650.4,503.9 651.4,503.7 652.4,503.6 653.4,503.4 654.4,503.3 655.4,503.1 656.4,503.0 657.4,503.3 658.4,503.7 659.4,504.1 660.4,504.5 661.4,505.0 662.4,505.4 663.4,505.8 664.4,506.3 665.4,506.7 666.4,507.1 667.4,507.4 668.4,507.8 669.4,508.2 670.4,508.6 671.5,509.0 672.5,509.3 673.5,509.7 674.5,510.1 675.5,510.5 676.5,510.9 677.5,511.3 678.5,511.8 679.5,512.2 680.5,512.6 681.5,513.0 682.5,513.5 683.5,513.9 684.5,514.1 685.5,513.7 686.5,513.2 687.5,512.8 688.5,512.4 689.5,511.9 690.5,511.7 691.5,512.1 692.5,512.6 693.5,513.0 694.5,513.4 695.5,513.9 696.5,514.3 697.5,514.7 698.6,514.9 699.6,515.0 700.6,515.2 701.6,515.4 702.6,515.5 703.6,515.7 704.6,515.9 705.6,516.2 706.6,516.6 707.6,516.9 708.6,517.3 709.6,517.7 710.6,518.1 711.6,518.4 712.6,518.8 713.6,519.2 714.6,519.6 715.6,519.9 716.6,520.1 717.6,520.4 718.6,520.6 719.6,520.9 720.6,521.1 721.6,521.4 722.6,521.6 723.6,521.9 724.7,522.1 725.7,522.5 726.7,522.9 727.7,523.4 728.7,523.8 729.7,524.2 730.7,524.6 731.7,525.1 732.7,525.5 733.7,525.9 734.7,526.4 735.7,526.5 736.7,526.6 737.7,526.7 738.7,526.8 739.7,526.9 740.7,527.0 741.7,527.1 742.7,527.2 743.7,527.3 744.7,527.4 745.7,527.5 746.7,527.6 747.7,527.7 748.7,527.8 749.7,527.9 750.7,527.9 751.8,527.9 752.8,527.9 753.8,527.9 754.8,527.9 755.8,527.9 756.8,527.9 757.8,527.9 758.8,527.9 759.8,527.9 760.8,527.9 761.8,527.9 762.8,527.9 763.8,527.9 764.8,527.9 765.8,527.8 766.8,527.8 767.8,527.7 768.8,527.7 769.8,527.6 770.8,527.6 771.8,527.5 772.8,527.5 773.8,527.4 774.8,527.4 775.8,527.3 776.8,527.3 777.8,527.2 778.9,527.2 779.9,527.2 780.9,527.4 781.9,527.5 782.9,527.7 783.9,527.9 784.9,528.1 785.9,528.2 786.9,528.4 787.9,528.6 788.9,528.8 789.9,528.9 790.9,529.0 791.9,529.0 792.9,529.1 793.9,529.1 794.9,529.2 795.9,529.3 796.9,529.3 797.9,529.4 798.9,529.4 799.9,529.5 800.9,529.6 801.9,529.6 802.9,529.3 803.9,529.1 805.0,528.8 806.0,528.6 807.0,528.3 808.0,528.0 809.0,527.8 810.0,527.5 811.0,527.3 812.0,527.0 813.0,526.7 814.0,526.5 815.0,526.4 816.0,526.3 817.0,526.3 818.0,526.3 819.0,526.2 820.0,526.2 821.0,526.2 822.0,526.1 823.0,526.1 824.0,526.1 825.0,526.0 826.0,526.0 827.0,526.0 828.0,525.9 829.0,525.9 830.0,525.8 831.0,525.8 832.1,525.7 833.1,525.7 834.1,525.6 835.1,525.6 836.1,525.5 837.1,525.5 838.1,525.4 839.1,525.4 840.1,525.7 841.1,526.2 842.1,526.6 843.1,527.0 844.1,527.4 845.1,527.8 846.1,528.2 847.1,528.4 848.1,528.6 849.1,528.8 850.1,529.0 851.1,529.1 852.1,529.3 853.1,529.5 854.1,529.6 855.1,530.1 856.1,530.6 857.1,531.1 858.1,531.6 859.2,532.1 860.2,532.6 861.2,533.1 862.2,533.3 863.2,533.3 864.2,533.3 865.2,533.3 866.2,533.3 867.2,533.3 868.2,533.3 869.2,533.3" fill="none" stroke="#ed7d31" stroke-width="3.2" stroke-linejoin="round" stroke-linecap="butt" />
<polyline points="15.0,458.3 16.0,458.3 17.0,459.1 18.0,459.8 19.0,460.4 20.0,461.0 21.0,461.6 22.0,462.1 23.0,462.5 24.0,462.8 25.0,463.2 26.0,463.6 27.0,464.2 28.0,465.2 29.1,466.2 30.1,467.2 31.1,468.2 32.1,469.2 33.1,470.2 34.1,470.8 35.1,471.2 36.1,471.6 37.1,472.0 38.1,472.4 39.1,472.9 40.1,473.3 41.1,473.7 42.1,474.1 43.1,474.5 44.1,475.0 45.1,475.4 46.1,475.8 47.1,476.3 48.1,476.7 49.1,477.2 50.1,477.6 51.1,478.5 52.1,479.3 53.1,480.1 54.1,481.0 55.1,481.6 56.2,480.7 57.2,479.8 58.2,478.9 59.2,478.5 60.2,478.8 61.2,479.1 62.2,479.5 63.2,479.8 64.2,480.1 65.2,480.4 66.2,480.7 67.2,481.0 68.2,481.1 69.2,481.2 70.2,481.4 71.2,481.5 72.2,481.4 73.2,481.0 74.2,480.6 75.2,480.2 76.2,479.8 77.2,479.5 78.2,479.3 79.2,479.2 80.2,479.0 81.2,478.8 82.3,478.5 83.3,478.1 84.3,478.1 85.3,478.3 86.3,478.9 87.3,479.4 88.3,479.6 89.3,479.9 90.3,480.1 91.3,480.2 92.3,480.2 93.3,480.2 94.3,480.2 95.3,480.2 96.3,480.4 97.3,480.9 98.3,481.6 99.3,482.2 100.3,482.9 101.3,483.6 102.3,484.3 103.3,485.0 104.3,485.3 105.3,485.6 106.3,485.9 107.3,486.2 108.3,486.5 109.4,486.8 110.4,487.1 111.4,486.9 112.4,486.7 113.4,486.4 114.4,486.1 115.4,485.9 116.4,485.6 117.4,485.4 118.4,485.3 119.4,485.2 120.4,485.1 121.4,485.0 122.4,484.9 123.4,484.8 124.4,484.7 125.4,484.5 126.4,484.2 127.4,483.8 128.4,483.5 129.4,483.1 130.4,482.8 131.4,482.4 132.4,482.1 133.4,481.7 134.4,481.1 135.4,480.4 136.5,479.8 137.5,479.1 138.5,478.5 139.5,477.8 140.5,477.2 141.5,476.5 142.5,475.5 143.5,474.3 144.5,473.1 145.5,471.9 146.5,470.7 147.5,469.5 148.5,468.4 149.5,467.4 150.5,466.5 151.5,465.6 152.5,464.6 153.5,462.7 154.5,461.9 155.5,461.1 156.5,460.2 157.5,459.4 158.5,458.6 159.5,457.7 160.5,456.9 161.5,456.1 162.6,455.2 163.6,454.4 164.6,453.6 165.6,452.7 166.6,451.9 167.6,451.1 168.6,450.2 169.6,449.4 170.6,448.5 171.6,447.7 172.6,446.9 173.6,446.0 174.6,445.2 175.6,444.4 176.6,443.6 177.6,443.2 178.6,442.8 179.6,442.4 180.6,442.0 181.6,441.6 182.6,441.2 183.6,440.8 184.6,440.4 185.6,439.5 186.6,438.5 187.6,437.5 188.6,436.5 189.7,435.5 190.7,434.4 191.7,433.4 192.7,432.4 193.7,431.4 194.7,430.3 195.7,428.8 196.7,427.0 197.7,425.3 198.7,423.5 199.7,421.7 200.7,416.8 201.7,414.8 202.7,412.9 203.7,407.3 204.7,406.3 205.7,406.3 206.7,406.3 207.7,406.3 208.7,406.3 209.7,406.3 210.7,406.3 211.7,406.3 212.7,403.9 213.7,401.6 214.7,399.2 215.7,397.2 216.8,396.0 217.8,394.8 218.8,393.6 219.8,392.4 220.8,391.2 221.8,390.0 222.8,388.6 223.8,387.2 224.8,385.9 225.8,384.5 226.8,383.1 227.8,381.8 228.8,380.4 229.8,379.0 230.8,376.3 231.8,373.3 232.8,370.3 233.8,367.3 234.8,364.3 235.8,361.6 236.8,359.0 237.8,356.4 238.8,353.8 239.8,351.1 240.8,350.1 241.8,349.5 242.9,348.8 243.9,348.2 244.9,347.5 245.9,347.1 246.9,346.7 247.9,346.3 248.9,345.9 249.9,345.5 250.9,345.1 251.9,344.9 252.9,344.9 253.9,344.9 254.9,344.9 255.9,344.9 256.9,344.9 257.9,344.9 258.9,344.7 259.9,342.7 260.9,340.7 261.9,338.7 262.9,336.7 263.9,334.7 264.9,332.7 265.9,330.7 266.9,328.7 267.9,326.9 268.9,325.0 270.0,323.1 271.0,321.3 272.0,319.4 273.0,317.6 274.0,315.7 275.0,313.8 276.0,312.9 277.0,312.2 278.0,311.4 279.0,310.7 280.0,309.9 281.0,307.5 282.0,304.8 283.0,302.1 284.0,299.6 285.0,298.2 286.0,296.7 287.0,295.3 288.0,293.9 289.0,292.4 290.0,291.0 291.0,289.6 292.0,288.1 293.0,286.7 294.0,285.2 295.0,283.7 296.0,282.2 297.1,280.7 298.1,279.2 299.1,277.6 300.1,276.1 302.1,274.4 303.1,272.0 304.1,269.5 305.1,267.1 306.1,264.6 307.1,262.2 308.1,260.1 309.1,258.6 310.1,257.1 311.1,255.6 312.1,254.1 313.1,252.2 314.1,249.7 315.1,247.2 316.1,244.7 317.1,242.2 318.1,239.6 319.1,237.1 320.1,234.6 321.1,232.0 322.1,229.3 323.2,226.6 324.2,223.9 325.2,221.3 326.2,218.6 327.2,215.9 328.2,213.3 329.2,210.6 330.2,208.0 331.2,205.4 332.2,202.8 333.2,200.2 334.2,197.8 335.2,196.0 336.2,194.1 337.2,192.3 338.2,190.5 339.2,188.7 340.2,186.9 341.2,182.7 342.2,178.5 343.2,174.2 344.2,169.9 345.2,165.7 346.2,162.4 347.2,159.1 348.2,155.9 349.2,152.6 350.3,149.3 351.3,150.3 352.3,151.3 353.3,152.3 354.3,153.6 355.3,156.0 356.3,158.4 357.3,160.8 358.3,163.2 359.3,165.7 360.3,168.1 361.3,168.8 362.3,169.6 363.3,170.3 364.3,171.1 365.3,171.9 366.3,177.6 367.3,183.4 368.3,189.2 369.3,194.9 370.3,200.7 371.3,206.0 372.3,211.2 373.3,216.5 374.3,221.8 375.3,226.9 376.3,222.6 377.4,218.3 378.4,214.1 379.4,209.8 380.4,205.5 381.4,198.4 382.4,191.4 383.4,184.4 384.4,177.4 385.4,170.3 386.4,163.3 387.4,156.3 388.4,149.3 389.4,142.8 390.4,137.8 391.4,132.2 392.4,126.6 393.4,123.1 394.4,121.4 395.4,119.8 396.4,118.1 397.4,110.8 398.4,102.1 399.4,93.4 400.4,84.9 401.4,79.2 402.4,73.5 403.5,67.8 404.5,63.6 405.5,62.6 406.5,61.6 407.5,60.6 408.5,59.4 409.5,58.2 410.5,56.9 411.5,55.7 412.5,54.4 413.5,53.7 414.5,53.3 415.5,53.0 416.5,52.7 417.5,53.7 418.5,55.1 419.5,56.4 420.5,57.3 421.5,52.9 422.5,48.6 423.5,44.2 424.5,40.5 425.5,38.1 426.5,35.7 427.5,33.3 428.5,30.9 429.5,32.0 430.6,33.6 431.6,35.3 432.6,36.9 433.6,39.0 434.6,41.3 435.6,43.7 436.6,46.0 437.6,50.4 438.6,55.1 439.6,59.8 440.6,64.3 441.6,68.1 442.6,71.9 443.6,75.6 444.6,79.4 445.6,84.0 446.6,86.5 447.6,89.0 448.6,91.5 449.6,94.0 450.6,96.4 451.6,98.9 452.6,101.3 453.6,103.7 454.6,106.1 455.6,108.5 456.6,110.7 457.7,112.4 458.7,114.0 459.7,115.7 460.7,118.5 461.7,122.1 462.7,125.8 463.7,129.5 464.7,132.2 465.7,134.6 466.7,137.9 467.7,141.6 468.7,144.3 469.7,147.1 470.7,149.8 471.7,152.4 472.7,154.6 473.7,156.8 474.7,159.1 475.7,161.3 476.7,163.5 477.7,165.7 478.7,168.5 479.7,171.3 480.7,174.1 481.7,177.0 482.7,179.8 483.8,182.6 484.8,183.6 485.8,184.2 486.8,184.8 487.8,185.4 488.8,188.2 489.8,192.9 490.8,197.5 491.8,201.8 492.8,205.3 493.8,208.8 494.8,212.3 495.8,215.8 496.8,219.2 497.8,222.2 498.8,225.2 499.8,228.2 500.8,231.2 501.8,234.2 502.8,237.2 503.8,240.3 504.8,243.3 505.8,246.3 506.8,249.4 507.8,252.8 508.8,256.1 509.8,259.4 510.9,264.6 511.9,270.8 512.9,283.0 513.9,291.4 514.9,299.8 515.9,306.6 516.9,308.8 517.9,311.1 518.9,313.3 519.9,315.5 520.9,318.1 521.9,320.8 522.9,323.5 523.9,326.1 524.9,328.8 525.9,331.5 526.9,334.2 527.9,336.5 528.9,338.0 529.9,339.5 530.9,341.0 531.9,342.6 532.9,344.1 533.9,345.6 534.9,347.1 535.9,347.1 536.9,346.8 538.0,346.4 539.0,346.1 540.0,345.7 541.0,347.7 542.0,350.3 543.0,352.9 544.0,355.5 545.0,358.1 546.0,360.3 547.0,362.3 548.0,364.3 549.0,366.3 550.0,368.3 551.0,370.3 552.0,372.3 553.0,374.1 554.0,375.5 555.0,376.8 556.0,378.1 557.0,379.5 558.0,380.8 559.0,382.2 560.0,383.5 561.0,385.9 562.0,388.6 563.0,391.3 564.1,394.1 565.1,398.8 566.1,403.4 567.1,408.1 569.1,414.1 570.1,416.2 571.1,418.2 572.1,420.2 573.1,422.2 574.1,424.2 575.1,426.2 576.1,428.2 577.1,430.2 578.1,432.4 579.1,435.0 580.1,437.6 581.1,440.2 582.1,442.9 583.1,445.5 584.1,447.8 585.1,448.1 586.1,448.3 587.1,448.5 588.1,448.7 589.1,449.0 590.1,449.2 591.2,449.4 592.2,449.6 593.2,449.9 594.2,450.1 595.2,450.3 596.2,451.5 597.2,453.0 598.2,454.4 599.2,455.8 600.2,457.2 601.2,458.6 602.2,459.2 603.2,459.3 604.2,459.5 605.2,459.6 606.2,459.8 607.2,459.9 608.2,460.1 609.2,460.2 610.2,460.3 611.2,460.9 612.2,461.6 613.2,462.3 614.2,463.0 615.2,463.6 616.2,464.3 617.2,465.0 618.3,465.9 619.3,467.2 620.3,468.5 621.3,469.7 622.3,471.0 623.3,472.3 624.3,473.6 625.3,474.9 626.3,476.2 627.3,477.0 628.3,477.6 629.3,478.2 630.3,478.8 631.3,479.4 632.3,480.0 633.3,479.7 634.3,478.0 635.3,476.4 636.3,474.7 637.3,474.3 638.3,474.6 639.3,474.9 640.3,475.1 641.3,475.4 642.3,475.7 643.3,475.9 644.4,476.1 645.4,475.7 646.4,475.3 647.4,474.9 648.4,474.5 649.4,474.1 650.4,473.7 651.4,474.3 652.4,475.1 653.4,475.8 654.4,476.5 655.4,477.3 656.4,478.0 657.4,478.7 658.4,480.1 659.4,482.1 660.4,484.1 661.4,486.1 662.4,488.1 663.4,490.1 664.4,492.1 665.4,494.1 666.4,494.3 667.4,494.4 668.4,494.6 669.4,494.7 670.4,494.8 671.5,494.9 672.5,495.1 673.5,495.2 674.5,495.3 675.5,495.4 676.5,496.9 677.5,498.4 678.5,499.9 679.5,501.4 680.5,502.9 681.5,504.4 682.5,505.9 683.5,506.8 684.5,507.0 685.5,507.2 686.5,507.3 687.5,507.5 688.5,507.7 689.5,507.9 690.5,507.3 691.5,507.5 692.5,507.7 693.5,507.8 694.5,508.0 695.5,508.2 696.5,508.3 697.5,508.5 698.6,508.7 699.6,508.8 700.6,509.0 701.6,509.2 702.6,509.3 703.6,509.5 704.6,509.7 705.6,509.7 706.6,509.6 707.6,509.5 708.6,509.4 709.6,509.3 710.6,509.2 711.6,509.2 712.6,509.1 713.6,509.0 714.6,509.3 715.6,509.7 716.6,510.1 717.6,510.5 718.6,510.8 719.6,511.2 720.6,511.6 721.6,512.0 722.6,512.4 723.6,512.9 724.7,513.4 725.7,513.9 726.7,514.4 727.7,514.9 728.7,515.4 729.7,515.9 730.7,516.4 731.7,516.9 732.7,517.4 733.7,517.9 734.7,518.4 735.7,518.9 736.7,519.4 737.7,519.9 738.7,520.4 739.7,520.9 740.7,521.4 741.7,521.9 742.7,522.3 743.7,522.6 744.7,523.0 745.7,523.3 746.7,523.6 747.7,524.0 748.7,524.3 749.7,524.6 750.7,524.9 751.8,525.3 752.8,525.4 753.8,525.5 754.8,525.5 755.8,525.6 756.8,525.6 757.8,525.7 758.8,525.7 759.8,525.8 760.8,525.8 761.8,525.9 762.8,525.9 763.8,526.0 764.8,526.0 765.8,526.0 766.8,526.1 767.8,526.1 768.8,526.2 769.8,526.2 770.8,526.2 771.8,526.3 772.8,526.3 773.8,526.4 774.8,526.3 775.8,526.2 776.8,526.1 777.8,525.9 778.9,525.8 779.9,525.7 780.9,525.5 781.9,525.4 782.9,525.5 783.9,525.7 784.9,525.8 785.9,525.9 786.9,526.1 787.9,526.2 788.9,526.4 789.9,526.5 790.9,526.6 791.9,526.8 792.9,526.9 793.9,527.1 794.9,527.1 795.9,527.0 796.9,526.9 797.9,526.8 798.9,526.8 799.9,526.7 800.9,526.6 801.9,526.5 802.9,526.4 803.9,526.3 805.0,526.3 806.0,526.2 807.0,526.1 808.0,526.0 809.0,525.9 810.0,525.8 811.0,525.7 812.0,525.7 813.0,525.6 814.0,525.5 815.0,525.4 816.0,525.3 817.0,525.2 818.0,525.2 819.0,525.1 820.0,525.0 821.0,524.9 822.0,524.8 823.0,524.7 824.0,524.7 825.0,524.5 826.0,524.2 827.0,523.9 828.0,523.7 829.0,523.4 830.0,523.2 831.0,522.9 832.1,522.7 833.1,522.4 834.1,522.2 835.1,521.9 836.1,521.7 837.1,521.4 838.1,521.2 839.1,520.9 840.1,521.1 841.1,521.4 842.1,521.6 843.1,521.9 844.1,522.1 845.1,522.4 846.1,522.6 847.1,522.9 848.1,523.1 849.1,523.4 850.1,523.9 851.1,524.4 852.1,524.9 853.1,525.4 854.1,525.9 855.1,526.4 856.1,526.9 857.1,527.4 858.1,527.8 859.2,528.2 860.2,528.7 861.2,529.1 862.2,529.5 863.2,530.0 864.2,530.3 865.2,530.1 866.2,529.9 867.2,529.7 868.2,529.5 869.2,529.3 870.2,529.1 871.2,528.9 872.2,528.7 873.2,528.5 875.0,528.0" fill="none" stroke="#ff0000" stroke-width="1" stroke-linejoin="round" stroke-linecap="butt" />
<polyline points="15.0,29.5 184.0,29.5 186.5,28.5 373.0,28.5 375.5,27.5 869.0,27.5" fill="none" stroke="#000" stroke-width="1" stroke-linejoin="round" stroke-linecap="butt" />
<polyline points="15.0,36.5 128.5,36.5 131.0,35.5 373.0,35.5 375.5,34.5 689.0,34.5 691.5,33.5 869.0,33.5" fill="none" stroke="#303030" stroke-width="1" stroke-linejoin="round" stroke-linecap="butt" />
<polyline points="15.0,137.5 16.0,137.5 17.0,137.5 18.0,137.5 19.0,137.5 20.0,136.5 21.0,136.5 22.0,136.5 23.0,136.5 24.0,136.5 25.0,136.5 26.0,136.5 27.0,136.5 28.0,136.5 29.1,136.5 30.1,136.5 31.1,136.5 32.1,136.5 33.1,136.5 34.1,136.5 35.1,136.5 36.1,136.5 37.1,136.5 38.1,136.5 39.1,136.5 40.1,136.5 41.1,136.5 42.1,136.5 43.1,136.5 44.1,136.5 45.1,135.5 46.1,135.5 47.1,135.5 48.1,135.5 49.1,135.5 50.1,135.5 51.1,135.5 52.1,135.5 53.1,135.5 54.1,135.5 55.1,135.5 56.2,135.5 57.2,135.5 58.2,135.5 59.2,135.5 60.2,135.5 61.2,135.5 62.2,135.5 63.2,135.5 64.2,135.5 65.2,135.5 66.2,135.5 67.2,135.5 68.2,135.5 69.2,135.5 70.2,134.5 71.2,134.5 72.2,134.5 73.2,134.5 74.2,134.5 75.2,134.5 76.2,134.5 77.2,134.5 78.2,134.5 79.2,134.5 80.2,134.5 81.2,134.5 82.3,134.5 83.3,134.5 84.3,134.5 85.3,134.5 86.3,134.5 87.3,134.5 88.3,134.5 89.3,134.5 90.3,134.5 91.3,134.5 92.3,134.5 93.3,134.5 94.3,134.5 95.3,134.5 96.3,134.5 97.3,134.5 98.3,133.5 99.3,133.5 100.3,133.5 101.3,133.5 102.3,133.5 103.3,133.5 104.3,133.5 105.3,133.5 106.3,133.5 107.3,133.5 108.3,133.5 109.4,133.5 110.4,133.5 111.4,133.5 112.4,133.5 113.4,133.5 114.4,133.5 115.4,133.5 116.4,133.5 117.4,133.5 118.4,133.5 119.4,133.5 120.4,133.5 121.4,133.5 122.4,133.5 123.4,133.5 124.4,133.5 125.4,132.5 126.4,132.5 127.4,132.5 128.4,132.5 129.4,132.5 130.4,132.5 131.4,132.5 132.4,132.5 133.4,132.5 134.4,132.5 135.4,132.5 136.5,132.5 137.5,132.5 138.5,132.5 139.5,132.5 140.5,132.5 141.5,132.5 142.5,132.5 143.5,132.5 144.5,132.5 145.5,132.5 146.5,132.5 147.5,132.5 148.5,132.5 149.5,132.5 150.5,132.5 151.5,131.5 152.5,131.5 153.5,131.5 154.5,131.5 155.5,131.5 156.5,131.5 157.5,131.5 158.5,131.5 159.5,131.5 160.5,131.5 161.5,131.5 162.6,131.5 163.6,131.5 164.6,131.5 165.6,131.5 166.6,131.5 167.6,131.5 168.6,131.5 169.6,131.5 170.6,131.5 171.6,131.5 172.6,131.5 173.6,131.5 174.6,131.5 175.6,131.5 176.6,131.5 177.6,130.5 178.6,130.5 179.6,130.5 180.6,130.5 181.6,130.5 182.6,130.5 183.6,130.5 184.6,130.5 185.6,130.5 186.6,130.5 187.6,130.5 188.6,130.5 189.7,130.5 190.7,130.5 191.7,130.5 192.7,130.5 193.7,130.5 194.7,130.5 195.7,130.5 196.7,130.5 197.7,130.5 198.7,130.5 199.7,130.5 200.7,130.5 201.7,130.5 202.7,130.5 203.7,130.5 204.7,129.5 205.7,129.5 206.7,129.5 207.7,129.5 208.7,129.5 209.7,129.5 210.7,129.5 211.7,129.5 212.7,129.5 213.7,129.5 214.7,129.5 215.7,129.5 216.8,129.5 217.8,129.5 218.8,129.5 219.8,129.5 220.8,129.5 221.8,129.5 222.8,129.5 223.8,129.5 224.8,129.5 225.8,129.5 226.8,129.5 227.8,129.5 228.8,129.5 229.8,129.5 230.8,129.5 231.8,128.5 232.8,128.5 233.8,128.5 234.8,128.5 235.8,128.5 236.8,128.5 237.8,128.5 238.8,128.5 239.8,128.5 240.8,128.5 241.8,128.5 242.9,128.5 243.9,128.5 244.9,128.5 245.9,128.5 246.9,128.5 247.9,128.5 248.9,128.5 249.9,128.5 250.9,128.5 251.9,128.5 252.9,128.5 253.9,128.5 254.9,128.5 255.9,128.5 256.9,128.5 257.9,128.5 258.9,128.5 259.9,127.5 260.9,127.5 261.9,127.5 262.9,127.5 263.9,127.5 264.9,127.5 265.9,127.5 266.9,127.5 267.9,127.5 268.9,127.5 270.0,127.5 271.0,127.5 272.0,127.5 273.0,127.5 274.0,127.5 275.0,127.5 276.0,127.5 277.0,127.5 278.0,127.5 279.0,127.5 280.0,127.5 281.0,127.5 282.0,127.5 283.0,127.5 284.0,127.5 285.0,127.5 286.0,126.5 287.0,126.5 288.0,126.5 289.0,126.5 290.0,126.5 291.0,126.5 292.0,126.5 293.0,126.5 294.0,126.5 295.0,126.5 296.0,126.5 297.1,126.5 298.1,126.5 299.1,126.5 300.1,126.5 301.1,126.5 302.1,126.5 303.1,126.5 304.1,125.5 305.1,125.5 306.1,125.5 307.1,125.5 308.1,125.5 309.1,125.5 310.1,125.5 311.1,125.5 312.1,125.5 313.1,125.5 314.1,125.5 315.1,125.5 316.1,125.5 317.1,125.5 318.1,125.5 319.1,125.5 320.1,125.5 321.1,125.5 322.1,124.5 323.2,124.5 324.2,124.5 325.2,124.5 326.2,124.5 327.2,124.5 328.2,124.5 329.2,124.5 330.2,124.5 331.2,124.5 332.2,124.5 333.2,124.5 334.2,124.5 335.2,124.5 336.2,124.5 337.2,124.5 338.2,124.5 339.2,124.5 340.2,124.5 341.2,124.5 342.2,124.5 343.2,124.5 344.2,124.5 345.2,124.5 346.2,124.5 347.2,124.5 348.2,124.5 349.2,124.5 350.3,124.5 351.3,124.5 352.3,124.5 353.3,124.5 354.3,124.5 355.3,124.5 356.3,124.5 357.3,124.5 358.3,124.5 359.3,124.5 360.3,124.5 361.3,124.5 362.3,124.5 363.3,124.5 364.3,124.5 365.3,124.5 366.3,124.5 367.3,124.5 368.3,124.5 369.3,124.5 370.3,124.5 371.3,124.5 372.3,124.5 373.3,124.5 374.3,124.5 375.3,124.5 376.3,124.5 377.4,124.5 378.4,124.5 379.4,124.5 380.4,124.5 381.4,124.5 382.4,123.5 383.4,123.5 384.4,123.5 385.4,123.5 386.4,123.5 387.4,123.5 388.4,123.5 389.4,123.5 390.4,123.5 391.4,123.5 392.4,123.5 393.4,123.5 394.4,123.5 395.4,123.5 396.4,123.5 397.4,123.5 398.4,123.5 399.4,123.5 400.4,123.5 401.4,123.5 402.4,123.5 403.5,123.5 404.5,123.5 405.5,123.5 406.5,123.5 407.5,123.5 408.5,123.5 409.5,123.5 410.5,123.5 411.5,123.5 412.5,123.5 413.5,123.5 414.5,123.5 415.5,123.5 416.5,123.5 417.5,123.5 418.5,123.5 419.5,123.5 420.5,123.5 421.5,123.5 422.5,123.5 423.5,123.5 424.5,123.5 425.5,123.5 426.5,123.5 427.5,123.5 428.5,123.5 429.5,123.5 430.6,123.5 431.6,123.5 432.6,123.5 433.6,122.5 434.6,122.5 435.6,122.5 436.6,122.5 437.6,122.5 438.6,122.5 439.6,122.5 440.6,122.5 441.6,122.5 442.6,122.5 443.6,122.5 444.6,122.5 445.6,122.5 446.6,122.5 447.6,122.5 448.6,122.5 449.6,122.5 450.6,122.5 451.6,122.5 452.6,122.5 453.6,122.5 454.6,122.5 455.6,122.5 456.6,122.5 457.7,122.5 458.7,122.5 459.7,122.5 460.7,122.5 461.7,122.5 462.7,122.5 463.7,122.5 464.7,122.5 465.7,122.5 466.7,122.5 467.7,122.5 468.7,122.5 469.7,122.5 470.7,122.5 471.7,122.5 472.7,122.5 473.7,122.5 474.7,122.5 475.7,122.5 476.7,122.5 477.7,122.5 478.7,122.5 479.7,122.5 480.7,121.5 481.7,121.5 482.7,121.5 483.8,121.5 484.8,121.5 485.8,121.5 486.8,121.5 487.8,121.5 488.8,121.5 489.8,121.5 490.8,121.5 491.8,121.5 492.8,121.5 493.8,121.5 494.8,121.5 495.8,121.5 496.8,121.5 497.8,121.5 498.8,121.5 499.8,121.5 500.8,121.5 501.8,121.5 502.8,121.5 503.8,121.5 504.8,121.5 505.8,121.5 506.8,121.5 507.8,121.5 508.8,121.5 509.8,121.5 510.9,121.5 511.9,121.5 512.9,121.5 513.9,121.5 514.9,121.5 515.9,121.5 516.9,121.5 517.9,121.5 518.9,121.5 519.9,121.5 520.9,121.5 521.9,121.5 522.9,121.5 523.9,121.5 524.9,121.5 525.9,121.5 526.9,121.5 527.9,121.5 528.9,121.5 529.9,121.5 530.9,121.5 531.9,121.5 532.9,121.5 533.9,121.5 534.9,121.5 535.9,121.5 536.9,121.5 538.0,121.5 539.0,121.5 540.0,121.5 541.0,120.5 542.0,120.5 543.0,120.5 544.0,120.5 545.0,120.5 546.0,120.5 547.0,120.5 548.0,120.5 549.0,120.5 550.0,120.5 551.0,120.5 552.0,120.5 553.0,120.5 554.0,120.5 555.0,120.5 556.0,120.5 557.0,120.5 558.0,120.5 559.0,120.5 560.0,120.5 561.0,120.5 562.0,120.5 563.0,120.5 564.1,120.5 565.1,120.5 566.1,120.5 567.1,120.5 568.1,120.5 569.1,120.5 570.1,120.5 571.1,120.5 572.1,120.5 573.1,120.5 574.1,120.5 575.1,120.5 576.1,120.5 577.1,120.5 578.1,120.5 579.1,120.5 580.1,120.5 581.1,120.5 582.1,120.5 583.1,120.5 584.1,120.5 585.1,120.5 586.1,120.5 587.1,120.5 588.1,120.5 589.1,120.5 590.1,120.5 591.2,120.5 592.2,120.5 593.2,120.5 594.2,120.5 595.2,120.5 596.2,120.5 597.2,120.5 598.2,120.5 599.2,120.5 600.2,120.5 601.2,120.5 602.2,120.5 603.2,120.5 604.2,120.5 605.2,120.5 606.2,120.5 607.2,120.5 608.2,120.5 609.2,120.5 610.2,119.5 611.2,119.5 612.2,119.5 613.2,119.5 614.2,119.5 615.2,119.5 616.2,119.5 617.2,119.5 618.3,119.5 619.3,119.5 620.3,119.5 621.3,119.5 622.3,119.5 623.3,119.5 624.3,119.5 625.3,119.5 626.3,119.5 627.3,119.5 628.3,119.5 629.3,119.5 630.3,119.5 631.3,119.5 632.3,119.5 633.3,119.5 634.3,119.5 635.3,119.5 636.3,119.5 637.3,119.5 638.3,119.5 639.3,119.5 640.3,119.5 641.3,119.5 642.3,119.5 643.3,119.5 644.4,119.5 645.4,119.5 646.4,119.5 647.4,119.5 648.4,119.5 649.4,119.5 650.4,119.5 651.4,119.5 652.4,119.5 653.4,119.5 654.4,119.5 655.4,119.5 656.4,119.5 657.4,119.5 658.4,119.5 659.4,119.5 660.4,119.5 661.4,119.5 662.4,119.5 663.4,119.5 664.4,119.5 665.4,119.5 666.4,119.5 667.4,119.5 668.4,119.5 669.4,119.5 670.4,119.5 671.5,119.5 672.5,119.5 673.5,119.5 674.5,119.5 675.5,119.5 676.5,119.5 677.5,119.5 678.5,119.5 679.5,119.5 680.5,119.5 681.5,119.5 682.5,119.5 683.5,119.5 684.5,119.5 685.5,119.5 686.5,119.5 687.5,119.5 688.5,119.5 689.5,119.5 690.5,119.5 691.5,119.5 692.5,119.5 693.5,119.5 694.5,119.5 695.5,119.5 696.5,119.5 697.5,119.5 698.6,119.5 699.6,119.5 700.6,119.5 701.6,119.5 702.6,119.5 703.6,118.5 704.6,118.5 705.6,118.5 706.6,118.5 707.6,118.5 708.6,118.5 709.6,118.5 710.6,118.5 711.6,118.5 712.6,118.5 713.6,118.5 714.6,118.5 715.6,118.5 716.6,118.5 717.6,118.5 718.6,118.5 719.6,118.5 720.6,118.5 721.6,118.5 722.6,118.5 723.6,118.5 724.7,118.5 725.7,118.5 726.7,118.5 727.7,118.5 728.7,118.5 729.7,118.5 730.7,118.5 731.7,118.5 732.7,118.5 733.7,118.5 734.7,118.5 735.7,118.5 736.7,118.5 737.7,118.5 738.7,118.5 739.7,118.5 740.7,118.5 741.7,118.5 742.7,118.5 743.7,118.5 744.7,118.5 745.7,118.5 746.7,118.5 747.7,118.5 748.7,118.5 749.7,118.5 750.7,118.5 751.8,118.5 752.8,118.5 753.8,118.5 754.8,118.5 755.8,118.5 756.8,118.5 757.8,118.5 758.8,118.5 759.8,118.5 760.8,118.5 761.8,118.5 762.8,118.5 763.8,118.5 764.8,118.5 765.8,118.5 766.8,118.5 767.8,118.5 768.8,118.5 769.8,118.5 770.8,118.5 771.8,118.5 772.8,118.5 773.8,118.5 774.8,118.5 775.8,118.5 776.8,118.5 777.8,118.5 778.9,118.5 779.9,118.5 780.9,118.5 781.9,118.5 782.9,118.5 783.9,118.5 784.9,118.5 785.9,118.5 786.9,118.5 787.9,118.5 788.9,118.5 789.9,118.5 790.9,118.5 791.9,118.5 792.9,118.5 793.9,118.5 794.9,118.5 795.9,118.5 796.9,118.5 797.9,118.5 798.9,118.5 799.9,118.5 800.9,118.5 801.9,118.5 802.9,118.5 803.9,118.5 805.0,118.5 806.0,118.5 807.0,118.5 808.0,118.5 809.0,118.5 810.0,118.5 811.0,118.5 812.0,118.5 813.0,118.5 814.0,118.5 815.0,118.5 816.0,118.5 817.0,118.5 818.0,118.5 819.0,118.5 820.0,118.5 821.0,118.5 822.0,118.5 823.0,118.5 824.0,118.5 825.0,118.5 826.0,118.5 827.0,118.5 828.0,118.5 829.0,118.5 830.0,118.5 831.0,118.5 832.1,118.5 833.1,118.5 834.1,118.5 835.1,118.5 836.1,118.5 837.1,118.5 838.1,118.5 839.1,118.5 840.1,118.5 841.1,118.5 842.1,118.5 843.1,118.5 844.1,118.5 845.1,118.5 846.1,118.5 847.1,118.5 848.1,118.5 849.1,118.5 850.1,118.5 851.1,118.5 852.1,118.5 853.1,118.5 854.1,118.5 855.1,118.5 856.1,118.5 857.1,118.5 858.1,118.5 859.2,118.5 860.2,118.5 861.2,118.5 862.2,118.5 863.2,118.5 864.2,118.5 865.2,118.5 866.2,118.5 867.2,118.5 868.2,118.5" fill="none" stroke="#6e6400" stroke-width="1.0" stroke-linejoin="round" stroke-linecap="butt" />
<polyline points="15.0,546.3 16.0,546.2 17.0,546.1 18.0,545.9 19.0,545.8 20.0,545.7 21.0,545.6 22.0,545.4 23.0,545.3 24.0,545.2 25.0,545.0 26.0,544.9 27.0,544.8 28.0,544.6 29.1,544.5 30.1,544.4 31.1,544.2 32.1,544.1 33.1,543.9 34.1,543.7 35.1,543.4 36.1,543.2 37.1,543.0 38.1,542.8 39.1,542.6 40.1,542.4 41.1,542.1 42.1,541.9 43.1,541.7 44.1,541.5 45.1,541.3 46.1,541.1 47.1,540.9 48.1,540.6 49.1,540.4 50.1,540.2 51.1,540.0 52.1,539.8 53.1,539.6 54.1,539.3 55.1,539.1 56.2,538.8 57.2,538.5 58.2,538.2 59.2,537.8 60.2,537.5 61.2,537.2 62.2,536.9 63.2,536.6 64.2,536.2 65.2,535.9 66.2,535.6 67.2,535.3 68.2,535.0 69.2,534.6 70.2,534.3 71.2,534.0 72.2,533.7 73.2,533.4 74.2,533.0 75.2,532.7 76.2,532.4 77.2,532.0 78.2,531.7 79.2,531.4 80.2,531.0 81.2,530.7 82.3,530.4 83.3,530.0 84.3,529.7 85.3,529.4 86.3,529.0 87.3,528.7 88.3,528.4 89.3,528.0 90.3,527.7 91.3,527.3 92.3,527.0 93.3,526.7 94.3,526.3 95.3,526.0 96.3,525.6 97.3,525.2 98.3,524.9 99.3,524.5 100.3,524.1 101.3,523.8 102.3,523.4 103.3,523.0 104.3,522.7 105.3,522.3 106.3,521.9 107.3,521.6 108.3,521.2 109.4,520.8 110.4,520.5 111.4,520.1 112.4,519.7 113.4,519.1 114.4,518.6 115.4,518.1 116.4,517.6 117.4,517.1 118.4,516.6 119.4,516.1 120.4,515.6 121.4,515.1 122.4,514.6 123.4,514.1 124.4,513.7 125.4,513.2 126.4,512.8 127.4,512.4 128.4,511.9 129.4,511.5 130.4,511.0 131.4,510.6 132.4,510.1 133.4,509.7 134.4,509.2 135.4,508.8 136.5,508.3 137.5,507.9 138.5,507.4 139.5,506.7 140.5,506.0 141.5,505.3 142.5,504.6 143.5,503.9 144.5,503.2 145.5,502.5 146.5,501.8 147.5,501.1 148.5,500.5 149.5,498.8 150.5,498.3 151.5,497.7 152.5,497.1 153.5,495.9 154.5,495.4 155.5,494.9 156.5,494.4 157.5,493.9 158.5,493.4 159.5,492.9 160.5,492.4 161.5,491.8 162.6,491.3 163.6,490.8 164.6,490.3 165.6,489.8 166.6,489.3 167.6,488.8 168.6,488.3 169.6,487.8 170.6,487.0 171.6,486.2 172.6,485.3 173.6,484.5 174.6,483.7 175.6,482.8 176.6,482.0 177.6,481.2 178.6,480.3 179.6,479.5 180.6,478.7 181.6,477.8 182.6,477.0 183.6,476.2 184.6,475.3 185.6,474.5 186.6,473.7 187.6,472.9 188.6,472.0 189.7,471.2 190.7,470.4 191.7,469.6 192.7,468.9 193.7,468.1 194.7,467.4 195.7,466.6 196.7,465.9 197.7,465.1 198.7,464.3 199.7,463.6 200.7,462.8 201.7,462.1 202.7,461.3 203.7,460.5 204.7,459.5 205.7,458.5 206.7,457.5 207.7,456.5 208.7,455.5 209.7,454.5 210.7,453.5 211.7,452.5 212.7,451.5 213.7,450.5 214.7,449.5 215.7,448.5 216.8,447.4 217.8,446.4 218.8,445.4 219.8,444.4 220.8,443.5 221.8,442.6 222.8,441.7 223.8,440.7 224.8,439.8 225.8,438.9 226.8,438.0 227.8,437.1 228.8,436.2 229.8,435.3 230.8,434.4 231.8,433.5 232.8,432.6 233.8,431.7 234.8,430.8 235.8,429.9 236.8,429.0 237.8,428.1 238.8,427.2 239.8,426.3 240.8,425.4 241.8,424.5 242.9,423.6 243.9,422.7 244.9,421.8 245.9,420.9 246.9,420.0 247.9,419.1 248.9,418.2 249.9,417.3 250.9,416.4 251.9,415.5 252.9,414.1 253.9,413.1 254.9,411.4 255.9,410.3 256.9,409.2 257.9,408.1 258.9,406.9 259.9,405.8 260.9,404.7 261.9,403.6 262.9,402.4 263.9,401.3 264.9,400.2 265.9,399.4 266.9,398.6 267.9,397.9 268.9,397.1 270.0,396.4 271.0,395.6 272.0,394.9 273.0,394.1 274.0,393.4 275.0,392.6 276.0,391.9 277.0,391.1 278.0,390.4 279.0,389.6 280.0,388.8 281.0,387.8 282.0,386.7 283.0,385.6 284.0,384.5 285.0,383.4 286.0,382.4 287.0,381.3 288.0,380.2 289.0,379.1 290.0,378.0 291.0,376.9 292.0,375.8 293.0,374.8 294.0,373.7 295.0,372.6 296.0,371.9 297.1,371.2 298.1,370.5 299.1,369.9 300.1,369.2 301.1,368.5 302.1,367.8 303.1,367.2 304.1,366.5 305.1,365.8 306.1,365.2 307.1,364.5 308.1,363.8 309.1,363.2 310.1,362.5 311.1,361.4 312.1,360.4 313.1,359.3 314.1,358.2 315.1,357.1 316.1,356.0 317.1,354.9 318.1,353.8 319.1,352.7 320.1,351.7 321.1,350.6 322.1,349.5 323.2,348.4 324.2,347.3 325.2,346.2 326.2,345.4 327.2,344.7 328.2,343.9 329.2,343.2 330.2,342.4 331.2,341.7 332.2,340.9 333.2,340.2 334.2,339.4 335.2,338.7 336.2,337.7 337.2,336.7 338.2,335.7 339.2,334.7 340.2,333.7 341.2,332.7 342.2,331.7 343.2,330.7 344.2,329.8 345.2,329.7 346.2,329.5 347.2,329.4 348.2,329.2 349.2,329.1 350.3,328.9 351.3,328.7 352.3,328.6 353.3,328.4 354.3,328.3 355.3,328.1 356.3,328.0 357.3,327.8 358.3,327.6 359.3,327.4 360.3,327.3 361.3,327.1 362.3,326.9 363.3,326.8 364.3,326.6 365.3,326.4 366.3,326.3 367.3,326.1 368.3,325.9 369.3,325.8 370.3,325.6 371.3,325.3 372.3,325.0 373.3,324.7 374.3,324.4 375.3,324.1 376.3,323.8 377.4,323.5 378.4,323.2 379.4,322.9 380.4,322.6 381.4,322.3 382.4,322.0 383.4,321.7 384.4,321.5 385.4,321.3 386.4,321.1 387.4,320.9 388.4,320.6 389.4,320.4 390.4,320.2 391.4,320.0 392.4,319.7 393.4,319.5 394.4,319.3 395.4,319.1 396.4,318.6 397.4,318.2 398.4,317.8 399.4,317.3 400.4,316.9 401.4,316.4 402.4,316.0 403.5,315.5 404.5,315.1 405.5,314.7 406.5,314.2 407.5,313.8 408.5,313.4 409.5,313.0 410.5,312.7 411.5,312.4 412.5,312.0 413.5,311.7 414.5,311.3 415.5,311.0 416.5,310.7 417.5,310.3 418.5,310.0 419.5,309.6 420.5,309.3 421.5,308.8 422.5,308.3 423.5,307.8 424.5,307.3 425.5,306.8 426.5,306.3 427.5,305.8 428.5,305.3 429.5,304.8 430.6,304.3 431.6,303.8 432.6,303.3 433.6,302.8 434.6,302.5 435.6,302.1 436.6,301.8 437.6,301.4 438.6,301.0 439.6,300.7 440.6,300.3 441.6,300.0 442.6,299.6 443.6,299.2 444.6,298.9 445.6,298.5 446.6,298.2 447.6,297.8 448.6,297.5 449.6,297.1 450.6,296.8 451.6,296.4 452.6,296.1 453.6,295.7 454.6,295.4 455.6,295.0 456.6,294.7 457.7,294.4 458.7,294.0 459.7,293.7 460.7,293.4 461.7,293.1 462.7,292.8 463.7,292.6 464.7,292.3 465.7,292.0 466.7,291.8 467.7,291.5 468.7,291.2 469.7,291.0 470.7,290.7 471.7,290.4 472.7,290.2 473.7,289.9 474.7,289.6 475.7,289.3 476.7,289.1 477.7,288.8 478.7,288.5 479.7,288.3 480.7,288.0 481.7,287.7 482.7,287.5 483.8,287.2 484.8,286.9 485.8,286.7 486.8,286.4 487.8,286.1 488.8,285.9 489.8,285.6 490.8,285.4 491.8,285.3 492.8,285.1 493.8,284.9 494.8,284.8 495.8,284.6 496.8,284.5 497.8,284.3 498.8,284.2 499.8,284.0 500.8,283.9 501.8,283.7 502.8,283.6 503.8,283.4 504.8,283.3 505.8,283.1 506.8,282.9 507.8,282.8 508.8,282.6 509.8,282.5 510.9,282.3 511.9,282.2 512.9,282.0 513.9,281.9 514.9,281.7 515.9,281.6 516.9,281.4 517.9,281.2 518.9,281.1 519.9,280.9 520.9,280.8 521.9,280.6 522.9,280.5 523.9,280.4 524.9,280.3 525.9,280.2 526.9,280.1 527.9,280.0 528.9,279.9 529.9,279.8 530.9,279.7 531.9,279.6 532.9,279.5 533.9,279.4 534.9,279.3 535.9,279.2 536.9,279.1 538.0,279.0 539.0,278.9 540.0,278.8 541.0,278.7 542.0,278.6 543.0,278.5 544.0,278.4 545.0,278.3 546.0,278.2 547.0,278.1 548.0,278.0 549.0,277.9 550.0,277.8 551.0,277.7 552.0,277.6 553.0,277.5 554.0,277.4 555.0,277.3 556.0,277.2 557.0,277.2 558.0,277.1 559.0,277.0 560.0,277.0 561.0,276.9 562.0,276.9 563.0,276.8 564.1,276.8 565.1,276.7 566.1,276.7 567.1,276.6 568.1,276.5 569.1,276.5 570.1,276.4 571.1,276.4 572.1,276.3 573.1,276.3 574.1,276.2 575.1,276.1 576.1,276.1 577.1,276.0 578.1,276.0 579.1,275.9 580.1,275.8 581.1,275.7 582.1,275.5 583.1,275.4 584.1,275.3 585.1,275.2 586.1,275.1 587.1,274.9 588.1,274.8 589.1,274.7 590.1,274.6 591.2,274.4 592.2,274.3 593.2,274.2 594.2,274.1 595.2,274.0 596.2,273.8 597.2,273.7 598.2,273.6 599.2,273.5 600.2,273.5 601.2,273.5 602.2,273.5 603.2,273.5 604.2,273.5 605.2,273.5 606.2,273.5 607.2,273.5 608.2,272.5 609.2,272.5 610.2,272.5 611.2,272.5 612.2,272.5 613.2,272.5 614.2,272.5 615.2,272.5 616.2,272.5 617.2,272.5 618.3,272.5 619.3,272.5 620.3,272.5 621.3,272.5 622.3,272.5 623.3,272.5 624.3,272.5 625.3,272.5 626.3,272.5 627.3,272.5 628.3,272.5 629.3,272.5 630.3,271.5 631.3,271.5 632.3,271.5 633.3,271.5 634.3,271.5 635.3,271.5 636.3,271.5 637.3,271.5 638.3,271.5 639.3,271.5 640.3,271.5 641.3,271.5 642.3,271.5 643.3,271.5 644.4,271.5 645.4,271.5 646.4,271.5 647.4,271.5 648.4,271.5 649.4,271.5 650.4,271.5 651.4,271.5 652.4,271.5 653.4,271.5 654.4,271.5 655.4,271.5 656.4,271.5 657.4,270.5 658.4,270.5 659.4,270.5 660.4,270.5 661.4,270.5 662.4,270.5 663.4,270.5 664.4,270.5 665.4,270.5 666.4,270.5 667.4,270.5 668.4,270.5 669.4,270.5 670.4,270.5 671.5,270.5 672.5,270.5 673.5,270.5 674.5,270.5 675.5,270.5 676.5,270.5 677.5,270.5 678.5,270.5 679.5,270.5 680.5,269.5 681.5,269.5 682.5,269.5 683.5,269.5 684.5,269.5 685.5,269.5 686.5,269.5 687.5,269.5 688.5,269.5 689.5,269.5 690.5,269.5 691.5,269.5 692.5,269.5 693.5,269.5 694.5,269.5 695.5,269.5 696.5,269.5 697.5,269.5 698.6,269.5 699.6,269.5 700.6,268.5 701.6,268.5 702.6,268.5 703.6,268.5 704.6,268.5 705.6,268.5 706.6,268.5 707.6,268.5 708.6,268.5 709.6,268.5 710.6,268.5 711.6,268.5 712.6,268.5 713.6,268.5 714.6,268.5 715.6,268.5 716.6,268.5 717.6,268.5 718.6,268.5 719.6,268.5 720.6,268.5 721.6,268.5 722.6,268.5 723.6,268.5 724.7,268.5 725.7,268.5 726.7,268.5 727.7,268.5 728.7,268.5 729.7,268.5 730.7,268.5 731.7,268.5 732.7,268.5 733.7,268.5 734.7,268.5 735.7,268.5 736.7,268.5 737.7,268.5 738.7,268.5 739.7,268.5 740.7,268.5 741.7,268.5 742.7,268.5 743.7,268.5 744.7,268.5 745.7,268.5 746.7,267.5 747.7,267.5 748.7,267.5 749.7,267.5 750.7,267.5 751.8,267.5 752.8,267.5 753.8,267.5 754.8,267.5 755.8,267.5 756.8,267.5 757.8,267.5 758.8,267.5 759.8,267.5 760.8,267.5 761.8,267.5 762.8,267.5 763.8,267.5 764.8,267.5 765.8,267.5 766.8,267.5 767.8,267.5 768.8,267.5 769.8,267.5 770.8,267.5 771.8,267.5 772.8,267.5 773.8,267.5 774.8,267.5 775.8,267.5 776.8,267.5 777.8,267.5 778.9,267.5 779.9,267.5 780.9,267.5 781.9,267.5 782.9,267.5 783.9,267.5 784.9,267.5 785.9,267.5 786.9,267.5 787.9,267.5 788.9,267.5 789.9,267.5 790.9,267.5 791.9,267.5 792.9,267.5 793.9,267.5 794.9,267.5 795.9,267.5 796.9,267.5 797.9,267.5 798.9,267.5 799.9,267.5 800.9,267.5 801.9,267.5 802.9,267.5 803.9,267.5 805.0,267.5 806.0,267.5 807.0,267.5 808.0,267.5 809.0,267.5 810.0,267.5 811.0,267.5 812.0,267.5 813.0,267.5 814.0,267.5 815.0,267.5 816.0,267.5 817.0,267.5 818.0,267.5 819.0,267.5 820.0,267.5 821.0,267.5 822.0,267.5 823.0,267.5 824.0,267.5 825.0,267.5 826.0,267.5 827.0,267.5 828.0,267.5 829.0,267.5 830.0,267.5 831.0,267.5 832.1,267.5 833.1,267.5 834.1,267.5 835.1,267.5 836.1,267.5 837.1,267.5 838.1,267.5 839.1,267.5 840.1,267.5 841.1,267.5 842.1,267.5 843.1,267.5 844.1,267.5 845.1,267.5 846.1,267.5 847.1,267.5 848.1,266.5 849.1,266.5 850.1,266.5 851.1,266.5 852.1,266.5 853.1,266.5 854.1,266.5 855.1,266.5 856.1,266.5 857.1,266.5 858.1,266.5 859.2,266.5 860.2,266.5 861.2,266.5 862.2,266.5 863.2,266.5 864.2,266.5 865.2,266.5 866.2,266.5 867.2,266.5 868.2,266.5" fill="none" stroke="#156b15" stroke-width="1.1" stroke-linejoin="round" stroke-linecap="butt" />
<polyline points="15.0,463.2 16.0,463.2 17.0,463.8 18.0,464.5 19.0,465.1 20.0,465.7 21.0,466.4 22.0,466.9 23.0,467.2 24.0,467.6 25.0,467.9 26.0,468.2 27.0,469.1 28.0,471.1 29.1,473.1 30.1,475.1 31.1,477.1 32.1,478.2 33.1,477.5 34.1,476.8 35.1,476.1 36.1,475.4 37.1,474.7 38.1,474.0 39.1,473.3 40.1,472.6 41.1,471.8 42.1,471.1 43.1,470.3 44.1,469.6 45.1,468.8 46.1,468.1 47.1,467.3 48.1,466.6 49.1,465.8 50.1,465.1 51.1,464.8 52.1,464.4 53.1,464.1 54.1,463.8 55.1,463.3 56.2,460.5 57.2,457.7 58.2,454.8 59.2,452.0 60.2,452.0 61.2,452.2 62.2,452.5 63.2,453.0 64.2,453.6 65.2,454.3 66.2,455.0 67.2,455.6 68.2,456.3 69.2,457.0 70.2,457.6 71.2,457.7 72.2,457.8 73.2,457.9 74.2,458.0 75.2,458.1 76.2,458.2 77.2,458.3 78.2,458.4 79.2,458.2 80.2,458.0 81.2,457.7 82.3,457.5 83.3,457.2 84.3,457.0 85.3,456.7 86.3,456.2 87.3,455.7 88.3,455.2 89.3,454.7 90.3,454.2 91.3,453.7 92.3,453.2 93.3,452.7 94.3,452.0 95.3,451.2 96.3,450.5 97.3,449.7 98.3,449.0 99.3,448.2 100.3,447.4 101.3,446.4 102.3,445.4 103.3,444.4 104.3,443.4 105.3,442.4 106.3,441.4 107.3,440.6 108.3,440.0 109.4,439.5 110.4,438.9 111.4,438.3 112.4,437.2 113.4,435.6 114.4,434.0 115.4,432.4 116.4,430.8 117.4,428.7 118.4,426.0 119.4,423.4 120.4,420.8 121.4,418.1 122.4,415.5 123.4,412.9 124.4,412.9 125.4,413.5 126.4,412.7 127.4,411.9 128.4,410.1 129.4,407.8 130.4,405.6 131.4,403.4 132.4,401.1 133.4,398.9 134.4,395.5 135.4,393.5 136.5,392.0 137.5,390.5 138.5,389.0 139.5,387.5 140.5,386.0 141.5,384.5 142.5,383.0 143.5,381.7 144.5,380.6 145.5,379.4 146.5,378.2 147.5,377.0 148.5,375.9 149.5,374.7 150.5,373.2 151.5,369.9 152.5,366.6 153.5,363.4 154.5,360.1 155.5,357.3 156.5,356.8 157.5,356.3 158.5,355.8 159.5,355.3 160.5,354.8 161.5,354.3 162.6,353.8 163.6,353.3 164.6,352.8 165.6,352.1 166.6,350.3 167.6,348.6 168.6,346.8 169.6,345.1 170.6,343.4 171.6,341.8 172.6,340.3 173.6,338.8 174.6,337.3 175.6,335.8 176.6,334.3 177.6,332.8 178.6,331.3 179.6,329.8 180.6,328.4 181.6,327.2 182.6,326.1 183.6,325.0 184.6,323.9 185.6,322.7 186.6,321.6 187.6,320.5 188.6,319.3 189.7,318.2 190.7,317.2 191.7,316.6 192.7,316.0 193.7,315.4 194.7,314.8 195.7,314.2 196.7,313.6 197.7,311.5 198.7,309.3 199.7,307.1 200.7,305.0 201.7,302.8 202.7,300.7 203.7,299.7 204.7,302.2 205.7,304.8 206.7,307.4 207.7,309.9 208.7,308.1 209.7,304.8 210.7,301.6 211.7,298.3 212.7,295.0 213.7,291.7 214.7,288.4 215.7,285.6 216.8,284.0 217.8,282.4 218.8,280.8 219.8,279.2 220.8,277.6 230.8,270.0 231.8,269.0 232.8,266.1 233.8,259.0 234.8,251.9 235.8,247.2 236.8,247.9 237.8,248.5 238.8,249.2 239.8,249.8 240.8,250.5 241.8,251.6 242.9,253.1 243.9,254.6 244.9,256.1 245.9,257.6 246.9,258.4 247.9,258.7 248.9,258.9 249.9,259.2 250.9,259.4 251.9,259.1 252.9,258.3 253.9,257.4 254.9,256.6 255.9,255.8 256.9,255.0 257.9,254.0 258.9,252.5 259.9,251.0 260.9,249.5 261.9,248.0 262.9,246.5 263.9,245.0 264.9,243.5 265.9,241.9 266.9,240.4 267.9,238.6 268.9,236.0 270.0,233.4 271.0,230.8 272.0,228.2 273.0,225.6 274.0,223.1 275.0,220.5 276.0,217.9 277.0,216.1 278.0,214.8 279.0,213.4 280.0,212.1 281.0,208.4 282.0,204.4 283.0,200.4 284.0,196.3 285.0,192.3 286.0,188.5 287.0,184.7 288.0,180.9 289.0,177.1 290.0,173.2 291.0,169.4 292.0,166.5 293.0,164.1 294.0,161.7 295.0,159.3 296.0,156.9 297.1,154.5 298.1,152.3 299.1,150.5 300.1,148.7 301.1,146.9 302.1,145.1 303.1,143.3 304.1,141.6 305.1,140.9 306.1,140.1 307.1,138.4 308.1,137.5 309.1,135.3 310.1,134.2 311.1,133.2 312.1,132.1 313.1,130.8 314.1,128.9 315.1,127.1 316.1,125.2 317.1,123.4 318.1,121.6 319.1,119.7 320.1,117.9 321.1,116.3 322.1,114.7 323.2,113.2 324.2,111.6 325.2,110.1 326.2,108.5 327.2,106.9 328.2,105.4 329.2,103.8 330.2,102.2 331.2,100.7 332.2,99.7 333.2,98.9 334.2,98.2 335.2,97.4 336.2,96.7 337.2,95.3 338.2,93.6 339.2,91.9 340.2,90.3 341.2,89.5 342.2,88.8 343.2,88.1 344.2,87.4 345.2,86.6 346.2,85.9 347.2,85.2 348.2,84.5 349.2,84.6 350.3,87.2 351.3,89.9 352.3,92.6 353.3,97.4 354.3,104.4 355.3,111.4 356.3,118.5 357.3,125.6 358.3,132.7 359.3,139.1 360.3,143.4 361.3,145.7 362.3,146.0 363.3,146.3 364.3,146.6 365.3,152.6 366.3,164.1 367.3,175.6 368.3,187.1 369.3,198.2 370.3,208.3 371.3,225.5 372.3,235.0 373.3,226.5 374.3,224.8 375.3,219.3 376.3,213.8 377.4,208.3 378.4,200.8 379.4,191.4 380.4,182.0 381.4,172.6 382.4,160.4 383.4,147.4 384.4,134.9 385.4,123.8 386.4,112.6 387.4,103.5 388.4,95.0 389.4,88.4 390.4,86.7 391.4,84.9 392.4,83.2 393.4,84.3 394.4,85.4 395.4,86.4 396.4,87.5 397.4,81.9 398.4,74.6 399.4,67.3 400.4,60.0 401.4,52.8 402.4,58.1 403.5,66.5 404.5,74.9 405.5,83.3 406.5,93.4 407.5,103.4 408.5,113.4 409.5,123.5 410.5,136.1 411.5,142.3 412.5,149.4 413.5,156.5 414.5,163.6 415.5,170.6 416.5,175.7 417.5,180.7 418.5,185.8 419.5,190.8 420.5,195.8 421.5,193.1 422.5,188.3 423.5,183.5 424.5,178.6 425.5,184.2 426.5,192.5 427.5,200.9 428.5,209.3 429.5,217.0 430.6,224.0 431.6,231.0 432.6,238.0 433.6,245.1 434.6,251.3 435.6,256.9 436.6,262.4 437.6,268.0 438.6,275.2 439.6,282.5 440.6,286.5 441.6,290.5 442.6,294.5 443.6,297.6 444.6,300.1 445.6,302.6 446.6,305.1 447.6,307.6 448.6,311.1 449.6,315.1 450.6,319.1 451.6,323.1 452.6,327.2 453.6,331.2 454.6,335.3 455.6,339.7 456.6,344.0 457.7,348.4 458.7,352.8 459.7,357.1 460.7,358.8 461.7,362.9 462.7,366.9 463.7,370.9 464.7,374.9 465.7,377.7 466.7,379.9 467.7,382.1 468.7,384.3 469.7,386.5 470.7,388.7 471.7,390.6 472.7,392.0 473.7,393.4 474.7,394.8 475.7,396.2 476.7,397.6 477.7,399.2 478.7,401.2 479.7,403.2 480.7,405.3 481.7,407.3 482.7,409.4 483.8,411.4 484.8,414.4 485.8,416.8 486.8,418.2 487.8,419.7 488.8,421.1 489.8,422.5 490.8,424.0 491.8,425.4 492.8,426.8 493.8,428.1 494.8,429.5 495.8,430.8 496.8,432.2 497.8,433.5 498.8,434.8 499.8,436.2 500.8,436.9 501.8,437.4 502.8,437.9 503.8,438.4 504.8,438.9 505.8,440.1 506.8,441.5 507.8,443.0 508.8,444.4 509.8,445.8 510.9,447.3 511.9,448.7 512.9,450.1 513.9,451.6 514.9,452.7 515.9,453.9 516.9,455.0 517.9,456.2 518.9,457.3 519.9,458.5 520.9,459.6 521.9,460.8 522.9,462.0 523.9,463.6 524.9,465.2 525.9,466.8 526.9,468.4 527.9,470.0 528.9,471.6 529.9,472.2 530.9,472.8 531.9,473.4 532.9,474.0 533.9,474.6 534.9,475.3 535.9,476.3 536.9,477.4 538.0,478.5 539.0,479.7 540.0,480.8 541.0,481.9 542.0,483.0 543.0,484.2 544.0,485.3 545.0,486.4 546.0,487.5 547.0,488.5 548.0,489.5 549.0,490.5 550.0,491.5 551.0,492.5 552.0,493.5 553.0,494.2 554.0,494.4 555.0,494.6 556.0,494.7 557.0,494.9 558.0,495.1 559.0,495.2 560.0,495.4 561.0,496.4 562.0,497.6 563.0,498.7 564.1,499.9 565.1,501.1 566.1,502.2 567.1,503.4 568.1,504.5 569.1,505.3 570.1,506.2 571.1,507.1 572.1,507.9 573.1,508.8 574.1,509.6 575.1,510.5 576.1,511.4 577.1,511.9 578.1,512.1 579.1,512.3 580.1,512.5 581.1,512.7 582.1,513.0 583.1,513.2 584.1,513.4 585.1,513.6 586.1,513.9 587.1,514.1 588.1,514.4 589.1,514.8 590.1,515.2 591.2,515.6 592.2,516.0 593.2,516.4 594.2,516.8 595.2,517.2 596.2,517.6 597.2,518.0 598.2,518.4 599.2,518.8 600.2,519.2 601.2,519.0 602.2,518.8 603.2,518.5 604.2,518.3 605.2,518.0 606.2,518.3 607.2,518.7 608.2,519.1 609.2,519.4 610.2,519.8 611.2,520.2 612.2,520.6 613.2,520.9 614.2,521.3 615.2,521.7 616.2,521.9 617.2,522.0 618.3,522.1 619.3,522.2 620.3,522.4 621.3,522.5 622.3,522.6 623.3,522.7 624.3,522.9 625.3,523.0 626.3,523.1 627.3,523.2 628.3,523.4 629.3,523.5 630.3,523.6 631.3,523.7 632.3,523.9 633.3,524.0 634.3,524.1 635.3,524.2 636.3,524.4 637.3,524.6 638.3,524.8 639.3,525.0 640.3,525.2 641.3,525.4 642.3,525.6 643.3,525.7 644.4,525.9 645.4,526.1 646.4,526.3 647.4,526.5 648.4,526.7 649.4,526.9 650.4,527.1 651.4,527.2 652.4,527.4 653.4,527.6 654.4,527.8 655.4,528.0 656.4,528.1 657.4,528.3 658.4,528.4 659.4,528.5 660.4,528.6 661.4,528.8 662.4,528.9 663.4,529.0 664.4,529.1 665.4,529.3 666.4,529.4 667.4,529.5 668.4,529.6 669.4,529.8 670.4,529.9 671.5,530.0 672.5,530.1 673.5,530.3 674.5,530.4 675.5,530.5 676.5,530.6 677.5,530.6 678.5,530.7 679.5,530.7 680.5,530.8 681.5,530.8 682.5,530.9 683.5,530.9 684.5,531.0 685.5,531.0 686.5,531.1 687.5,531.1 688.5,531.2 689.5,531.2 690.5,530.9 691.5,530.9 692.5,530.9 693.5,530.9 694.5,530.9 695.5,530.9 696.5,530.9 697.5,530.9 698.6,530.9 699.6,530.9 700.6,530.8 701.6,530.7 702.6,530.5 703.6,530.4 704.6,530.3 705.6,530.2 706.6,530.0 707.6,529.9 708.6,529.8 709.6,529.7 710.6,529.7 711.6,529.8 712.6,529.9 713.6,530.0 714.6,530.1 715.6,530.2 716.6,530.3 717.6,530.4 718.6,530.5 719.6,530.6 720.6,530.7 721.6,530.8 722.6,530.8 723.6,530.8 724.7,530.8 725.7,530.8 726.7,530.7 727.7,530.7 728.7,530.7 729.7,530.6 730.7,530.6 731.7,530.6 732.7,530.6 733.7,530.5 734.7,530.5 735.7,530.5 736.7,530.4 737.7,530.4 738.7,530.4 739.7,530.4 740.7,530.2 741.7,530.1 742.7,530.0 743.7,529.8 744.7,529.7 745.7,529.6 746.7,529.4 747.7,529.3 748.7,529.2 749.7,529.0 750.7,528.9 751.8,528.8 752.8,528.6 753.8,528.5 754.8,528.4 755.8,528.3 756.8,528.3 757.8,528.3 758.8,528.3 759.8,528.2 760.8,528.2 761.8,528.2 762.8,528.1 763.8,528.1 764.8,528.1 765.8,528.1 766.8,528.0 767.8,528.0 768.8,528.0 769.8,527.9 770.8,527.9 771.8,527.9 772.8,527.8 773.8,527.8 774.8,527.8 775.8,527.7 776.8,527.7 777.8,527.6 778.9,527.6 779.9,527.5 780.9,527.5 781.9,527.5 782.9,527.4 783.9,527.4 784.9,527.3 785.9,527.3 786.9,527.2 787.9,527.2 788.9,527.2 789.9,527.1 790.9,526.9 791.9,526.7 792.9,526.5 793.9,526.3 794.9,526.2 795.9,526.0 796.9,525.8 797.9,525.6 798.9,525.5 799.9,525.3 800.9,525.1 801.9,524.9 802.9,524.7 803.9,524.5 805.0,524.3 806.0,524.1 807.0,523.9 808.0,523.7 809.0,523.5 810.0,523.4 811.0,523.3 812.0,523.3 813.0,523.2 814.0,523.2 815.0,523.1 816.0,523.1 817.0,523.0 818.0,523.0 819.0,522.9 820.0,522.8 821.0,522.7 822.0,522.6 823.0,522.5 824.0,522.4 825.0,522.3 826.0,522.2 827.0,522.1 828.0,521.9 829.0,521.8 830.0,521.6 831.0,521.4 832.1,521.3 833.1,521.1 834.1,520.9 835.1,521.0 836.1,521.0 837.1,521.1 838.1,521.2 839.1,521.2 840.1,521.3 841.1,521.4 842.1,521.3 843.1,520.9 844.1,520.6 845.1,520.3 846.1,519.9 847.1,519.6 848.1,519.3 849.1,518.9 850.1,519.2 851.1,519.5 852.1,519.8 853.1,520.1 854.1,520.4 855.1,520.9 856.1,521.4 857.1,521.8 858.1,522.3 859.2,522.8 860.2,523.2 861.2,523.7 862.2,523.6 863.2,523.0 864.2,522.5 865.2,522.0 866.2,521.4 867.2,520.9 868.2,520.4 869.2,519.8" fill="none" stroke="#0000ff" stroke-width="3.2" stroke-linejoin="round" stroke-linecap="butt" />
</g>
<rect x="15" y="0" width="146" height="16" fill="#f2f2f2"/>
<text y="12.9" font-size="13.5" fill="#000" font-family="'Liberation Sans', IPAGothic, 'Noto Sans CJK JP', sans-serif" stroke="#000" stroke-width="0.2"><tspan x="19.4">第</tspan><tspan x="35.7" font-size="14.3" textLength="5.7" lengthAdjust="spacingAndGlyphs">8</tspan><tspan x="44.8">波</tspan><tspan x="58.2"> </tspan><tspan x="65.0" font-size="14.3" textLength="5.7" lengthAdjust="spacingAndGlyphs">2</tspan><tspan x="71.3" font-size="14.3" textLength="5.7" lengthAdjust="spacingAndGlyphs">2</tspan><tspan x="77.5">年</tspan><tspan x="93.6" font-size="14.3" textLength="5.7" lengthAdjust="spacingAndGlyphs">1</tspan><tspan x="99.7" font-size="14.3" textLength="5.7" lengthAdjust="spacingAndGlyphs">0</tspan><tspan x="105.8">月</tspan><tspan x="119.3" font-size="14.3" textLength="5.7" lengthAdjust="spacingAndGlyphs">8</tspan><tspan x="124.8 137.8">日〜</tspan></text>
<rect x="22" y="40" width="160" height="15" fill="#f2f2f2"/>
<text y="52.4" font-size="13.8" fill="#000" font-family="'Liberation Sans', IPAGothic, 'Noto Sans CJK JP', sans-serif" stroke="#000" stroke-width="0.2"><tspan x="25.0 38.6 53.9 68.0 81.4">新型コロナ</tspan><tspan x="95.2"> </tspan><tspan x="95.8 109.7 123.0 136.6 150.5 164.8">新規感染者数</tspan></text>
<rect x="18" y="55.2" width="88.0" height="14" fill="#f2f2f2"/>
<rect x="20" y="61" width="27" height="2" fill="#55aaff" shape-rendering="crispEdges"/>
<text y="66.7" font-size="13" fill="#000" font-family="'Liberation Sans', IPAGothic, 'Noto Sans CJK JP', sans-serif" stroke="#000" stroke-width="0.2"><tspan x="52.4 65.6 78.3 91.1">感染者数</tspan></text>
<rect x="18" y="69.4" width="139.0" height="14" fill="#f2f2f2"/>
<rect x="20" y="75" width="27" height="3" fill="#0000ff" shape-rendering="crispEdges"/>
<text y="80.9" font-size="13" fill="#000" font-family="'Liberation Sans', IPAGothic, 'Noto Sans CJK JP', sans-serif" stroke="#000" stroke-width="0.2"><tspan x="52.4 65.6 78.3 91.1">感染者数</tspan><tspan x="104.1"> </tspan><tspan x="110.2" font-size="13.8" textLength="5.7" lengthAdjust="spacingAndGlyphs">7</tspan><tspan x="116.7 128.7 141.8">日平均</tspan></text>
<rect x="18" y="83.4" width="139.0" height="14" fill="#f2f2f2"/>
<rect x="20" y="89" width="27" height="3" fill="#ed7d31" shape-rendering="crispEdges"/>
<text y="94.9" font-size="13" fill="#000" font-family="'Liberation Sans', IPAGothic, 'Noto Sans CJK JP', sans-serif" stroke="#000" stroke-width="0.2"><tspan x="52.4 65.6 78.3 91.1">死亡者数</tspan><tspan x="104.1"> </tspan><tspan x="110.2" font-size="13.8" textLength="5.7" lengthAdjust="spacingAndGlyphs">7</tspan><tspan x="116.7 128.7 141.8">日平均</tspan></text>
<rect x="18" y="97.5" width="214.5" height="14" fill="#f2f2f2"/>
<rect x="20" y="104" width="27" height="1" fill="#e00000" shape-rendering="crispEdges"/>
<text y="109.0" font-size="13" fill="#000" font-family="'Liberation Sans', IPAGothic, 'Noto Sans CJK JP', sans-serif" stroke="#000" stroke-width="0.2"><tspan x="52.4 65.6 78.3 91.1">死亡者数</tspan><tspan x="104.1"> </tspan><tspan x="110.2" font-size="13.8" textLength="5.7" lengthAdjust="spacingAndGlyphs">7</tspan><tspan x="116.7 128.7 141.8">日平均</tspan><tspan x="154.8"> </tspan><tspan x="165.2 178.6 191.8 204.9 217.8">厚生労働省</tspan></text>
<rect x="18" y="111.5" width="214.5" height="14" fill="#f2f2f2"/>
<rect x="20" y="117" width="27" height="3" fill="#b966ff" shape-rendering="crispEdges"/>
<text y="123.0" font-size="13" fill="#000" font-family="'Liberation Sans', IPAGothic, 'Noto Sans CJK JP', sans-serif" stroke="#000" stroke-width="0.2"><tspan x="52.4 65.6 78.3 91.1">重症者数</tspan><tspan x="104.1"> </tspan><tspan x="165.2 178.6 191.8 204.9 217.8">厚生労働省</tspan></text>
<rect x="18" y="139.6" width="214.5" height="14" fill="#f2f2f2"/>
<rect x="20" y="145" width="27" height="3" fill="#0a9a2a" shape-rendering="crispEdges"/>
<text y="151.1" font-size="13" fill="#000" font-family="'Liberation Sans', IPAGothic, 'Noto Sans CJK JP', sans-serif" stroke="#000" stroke-width="0.2"><tspan x="51.9 64.3 77.2 90.6 103.3 115.8 128.2 139.3 150.7">入院治療を要する者</tspan><tspan x="163.7"> </tspan><tspan x="165.2 178.6 191.8 204.9 217.8">厚生労働省</tspan></text>
<rect x="18" y="153.2" width="176.0" height="14" fill="#f2f2f2"/>
<rect x="20" y="160" width="27" height="1" fill="#000000" shape-rendering="crispEdges"/>
<text y="164.7" font-size="13" fill="#000" font-family="'Liberation Sans', IPAGothic, 'Noto Sans CJK JP', sans-serif" stroke="#000" stroke-width="0.2"><tspan x="52.1 64.1 76.1 87.6 101.7 114.2 126.8 139.6">ワクチン接種者数</tspan><tspan x="152.6"> </tspan><tspan x="158.7" font-size="13.8" textLength="5.7" lengthAdjust="spacingAndGlyphs">1</tspan><tspan x="167.3 179.7">回目</tspan></text>
<rect x="18" y="167.0" width="176.0" height="14" fill="#f2f2f2"/>
<rect x="20" y="174" width="27" height="1" fill="#808080" shape-rendering="crispEdges"/>
<text y="178.5" font-size="13" fill="#000" font-family="'Liberation Sans', IPAGothic, 'Noto Sans CJK JP', sans-serif" stroke="#000" stroke-width="0.2"><tspan x="52.1 64.1 76.1 87.6 101.7 114.2 126.8 139.6">ワクチン接種者数</tspan><tspan x="152.6"> </tspan><tspan x="158.7" font-size="13.8" textLength="5.7" lengthAdjust="spacingAndGlyphs">2</tspan><tspan x="167.3 179.7">回目</tspan></text>
<rect x="18" y="180.8" width="176.0" height="14" fill="#f2f2f2"/>
<rect x="20" y="188" width="27" height="1" fill="#b0a810" shape-rendering="crispEdges"/>
<text y="192.3" font-size="13" fill="#000" font-family="'Liberation Sans', IPAGothic, 'Noto Sans CJK JP', sans-serif" stroke="#000" stroke-width="0.2"><tspan x="52.1 64.1 76.1 87.6 101.7 114.2 126.8 139.6">ワクチン接種者数</tspan><tspan x="152.6"> </tspan><tspan x="158.7" font-size="13.8" textLength="5.7" lengthAdjust="spacingAndGlyphs">3</tspan><tspan x="167.3 179.7">回目</tspan></text>
<rect x="18" y="194.6" width="169.5" height="14" fill="#f2f2f2"/>
<rect x="20" y="202" width="27" height="1" fill="#148214" shape-rendering="crispEdges"/>
<text y="206.1" font-size="13" fill="#000" font-family="'Liberation Sans', IPAGothic, 'Noto Sans CJK JP', sans-serif" stroke="#000" stroke-width="0.2"><tspan x="52.1 64.1 76.1 87.6">ワクチン</tspan><tspan x="100.6"> </tspan><tspan x="102.2 114.2 125.4 137.3 148.6">オミクロン</tspan><tspan x="164.2" font-size="13.8" textLength="5.7" lengthAdjust="spacingAndGlyphs">2</tspan><tspan x="172.2">価</tspan></text>
<text x="1.5 1.5" y="13.0 27.5" font-size="12.5" fill="#000" font-family="'Liberation Sans', IPAGothic, 'Noto Sans CJK JP', sans-serif" stroke="#000" stroke-width="0.2">千人</text>
<text x="0.8" y="54.3" font-size="12.5" textLength="13.5" lengthAdjust="spacingAndGlyphs" fill="#000" font-family="'Liberation Sans', sans-serif">182</text>
<text x="5" y="548.5" font-size="12.5" textLength="5" lengthAdjust="spacingAndGlyphs" fill="#000" font-family="'Liberation Sans', sans-serif">0</text>
<line x1="388.5" y1="545" x2="388.5" y2="550" stroke="#000" stroke-width="1" shape-rendering="crispEdges"/>
<text y="543.2" font-size="13" fill="#000" font-family="'Liberation Sans', IPAGothic, 'Noto Sans CJK JP', sans-serif" stroke="#000" stroke-width="0.2"><tspan x="377.4" font-size="13.8" textLength="5.7" lengthAdjust="spacingAndGlyphs">1</tspan><tspan x="385.5" font-size="15" textLength="5.4" lengthAdjust="spacingAndGlyphs">/</tspan><tspan x="394.9" font-size="13.8" textLength="5.7" lengthAdjust="spacingAndGlyphs">8</tspan></text>
<g shape-rendering="crispEdges" stroke="#bdbdbd" stroke-width="1"><line x1="888.5" y1="0" x2="888.5" y2="551"/><line x1="903.5" y1="0" x2="903.5" y2="551"/></g>
<text x="875.2 875.2 875.2" y="12.0 26.4 40.8" font-size="12.5" fill="#000" font-family="'Liberation Sans', IPAGothic, 'Noto Sans CJK JP', sans-serif" stroke="#000" stroke-width="0.2">死亡者</text>
<text x="889.8 889.8 889.8" y="12.0 26.4 40.8" font-size="12.5" fill="#000" font-family="'Liberation Sans', IPAGothic, 'Noto Sans CJK JP', sans-serif" stroke="#000" stroke-width="0.2">重症者</text>
<text x="905.0 905.0 905.0 905.0" y="7.6 19.9 32.2 44.5" font-size="12.5" fill="#000" font-family="'Liberation Sans', IPAGothic, 'Noto Sans CJK JP', sans-serif" stroke="#000" stroke-width="0.2">入院治療</text>
<text x="874.3" y="54.3" font-size="12.5" textLength="13.5" lengthAdjust="spacingAndGlyphs" fill="#000" font-family="'Liberation Sans', sans-serif">408</text>
<text x="889.3" y="54.3" font-size="12.5" textLength="13.5" lengthAdjust="spacingAndGlyphs" fill="#000" font-family="'Liberation Sans', sans-serif">697</text>
<text x="904.5" y="54.3" font-size="12.5" textLength="13.5" lengthAdjust="spacingAndGlyphs" fill="#000" font-family="'Liberation Sans', sans-serif">199</text>
<text x="875.2" y="549.0" font-size="12.5" fill="#000" font-family="'Liberation Sans', IPAGothic, 'Noto Sans CJK JP', sans-serif" stroke="#000" stroke-width="0.2">人</text>
<text x="889.8" y="549.0" font-size="12.5" fill="#000" font-family="'Liberation Sans', IPAGothic, 'Noto Sans CJK JP', sans-serif" stroke="#000" stroke-width="0.2">人</text>
<text x="905.0 905.0" y="535.0 549.0" font-size="12.5" fill="#000" font-family="'Liberation Sans', IPAGothic, 'Noto Sans CJK JP', sans-serif" stroke="#000" stroke-width="0.2">千人</text>
</svg>
</body></html>
